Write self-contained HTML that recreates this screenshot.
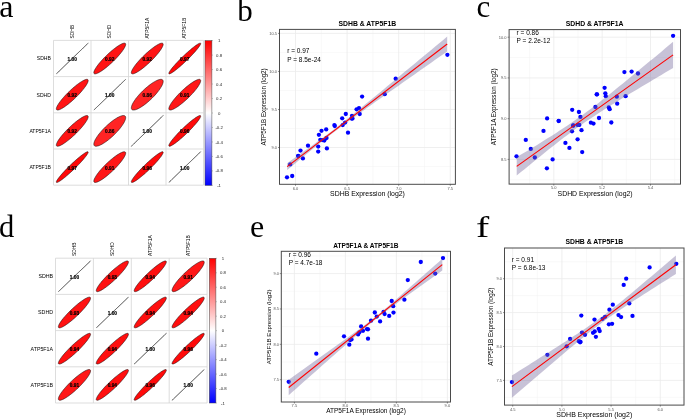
<!DOCTYPE html><html><head><meta charset="utf-8"><style>html,body{margin:0;padding:0;background:#fff;overflow:hidden}svg{display:block;will-change:transform;filter:blur(0.45px)}</style></head><body>
<svg width="685" height="419" viewBox="0 0 685 419">
<rect width="685" height="419" fill="#fff"/>
<text x="-0.80" y="17.40" font-size="32.00" text-anchor="start" fill="#000" font-family='"Liberation Serif", serif'>a</text>
<text x="237.20" y="21.20" font-size="31.00" text-anchor="start" fill="#000" font-family='"Liberation Serif", serif'>b</text>
<text x="476.40" y="17.20" font-size="31.00" text-anchor="start" fill="#000" font-family='"Liberation Serif", serif'>c</text>
<text x="-1.00" y="236.50" font-size="30.50" text-anchor="start" fill="#000" font-family='"Liberation Serif", serif'>d</text>
<text x="249.90" y="236.80" font-size="32.00" text-anchor="start" fill="#000" font-family='"Liberation Serif", serif'>e</text>
<g transform="translate(476.00 236.60) scale(1.3 1)">
<text x="0.00" y="0.00" font-size="30.50" text-anchor="start" fill="#000" font-family='"Liberation Serif", serif'>f</text>
</g>
<path d="M88.19,43.11 L88.16,43.15 L88.06,43.24 L87.90,43.39 L87.68,43.61 L87.39,43.88 L87.05,44.22 L86.64,44.61 L86.18,45.06 L85.66,45.56 L85.08,46.11 L84.46,46.71 L83.78,47.37 L83.06,48.06 L82.30,48.80 L81.49,49.58 L80.65,50.39 L79.78,51.23 L78.87,52.11 L77.94,53.01 L76.98,53.93 L76.01,54.87 L75.02,55.83 L74.02,56.79 L73.01,57.77 L72.00,58.74 L70.99,59.72 L69.98,60.69 L68.99,61.65 L68.00,62.60 L67.04,63.53 L66.09,64.44 L65.17,65.33 L64.28,66.19 L63.42,67.02 L62.60,67.82 L61.81,68.58 L61.07,69.29 L60.37,69.97 L59.72,70.59 L59.12,71.17 L58.58,71.70 L58.08,72.17 L57.65,72.59 L57.27,72.96 L56.96,73.26 L56.70,73.51 L56.51,73.69 L56.38,73.82 L56.32,73.88 L56.32,73.88 L56.38,73.82 L56.51,73.69 L56.70,73.51 L56.96,73.26 L57.27,72.96 L57.65,72.59 L58.08,72.17 L58.58,71.70 L59.12,71.17 L59.72,70.59 L60.37,69.97 L61.07,69.29 L61.81,68.58 L62.60,67.82 L63.42,67.02 L64.28,66.19 L65.17,65.33 L66.09,64.44 L67.04,63.53 L68.00,62.60 L68.99,61.65 L69.98,60.69 L70.99,59.72 L72.00,58.74 L73.01,57.77 L74.02,56.79 L75.02,55.83 L76.01,54.87 L76.98,53.93 L77.94,53.01 L78.87,52.11 L79.78,51.23 L80.65,50.39 L81.49,49.58 L82.30,48.80 L83.06,48.06 L83.78,47.37 L84.46,46.71 L85.08,46.11 L85.66,45.56 L86.18,45.06 L86.64,44.61 L87.05,44.22 L87.39,43.88 L87.68,43.61 L87.90,43.39 L88.06,43.24 L88.16,43.15 L88.19,43.11Z" fill="none" stroke="#4a4a4a" stroke-width="0.6"/>
<text x="72.25" y="61.09" font-size="4.80" text-anchor="middle" font-weight="bold" fill="#000" font-family='"Liberation Sans", sans-serif' stroke="#000" stroke-width="0.15">1.00</text>
<path d="M125.37,43.43 L125.13,43.26 L124.84,43.16 L124.48,43.12 L124.06,43.14 L123.59,43.22 L123.06,43.36 L122.48,43.57 L121.85,43.83 L121.16,44.16 L120.43,44.54 L119.66,44.97 L118.85,45.47 L118.00,46.01 L117.12,46.61 L116.21,47.25 L115.27,47.94 L114.32,48.67 L113.34,49.44 L112.35,50.25 L111.34,51.09 L110.33,51.96 L109.32,52.85 L108.31,53.77 L107.31,54.71 L106.32,55.66 L105.33,56.63 L104.37,57.60 L103.43,58.58 L102.52,59.55 L101.63,60.52 L100.78,61.49 L99.96,62.44 L99.18,63.37 L98.45,64.29 L97.76,65.18 L97.12,66.05 L96.52,66.88 L95.99,67.68 L95.51,68.45 L95.08,69.17 L94.71,69.85 L94.41,70.49 L94.17,71.08 L93.99,71.61 L93.87,72.10 L93.82,72.53 L93.83,72.90 L93.90,73.21 L94.04,73.47 L94.24,73.66 L94.51,73.80 L94.83,73.87 L95.22,73.88 L95.67,73.83 L96.17,73.72 L96.72,73.54 L97.33,73.31 L97.99,73.01 L98.70,72.66 L99.45,72.25 L100.24,71.79 L101.07,71.27 L101.93,70.70 L102.83,70.08 L103.75,69.41 L104.70,68.70 L105.67,67.95 L106.66,67.16 L107.65,66.34 L108.66,65.48 L109.67,64.60 L110.68,63.69 L111.69,62.76 L112.69,61.82 L113.68,60.86 L114.65,59.89 L115.60,58.91 L116.53,57.94 L117.43,56.96 L118.30,55.99 L119.14,55.04 L119.93,54.09 L120.69,53.17 L121.40,52.26 L122.07,51.38 L122.69,50.53 L123.25,49.71 L123.76,48.93 L124.21,48.19 L124.61,47.48 L124.95,46.82 L125.22,46.21 L125.43,45.65 L125.58,45.14 L125.67,44.68 L125.69,44.28 L125.64,43.94 L125.54,43.65 L125.37,43.43Z" fill="rgb(255,20,20)" stroke="#000" stroke-width="0.5"/>
<text x="109.75" y="61.09" font-size="4.80" text-anchor="middle" font-weight="bold" fill="#000" font-family='"Liberation Sans", sans-serif' stroke="#000" stroke-width="0.15">0.92</text>
<path d="M162.87,43.43 L162.63,43.26 L162.34,43.16 L161.98,43.12 L161.56,43.14 L161.09,43.22 L160.56,43.36 L159.98,43.57 L159.35,43.83 L158.66,44.16 L157.93,44.54 L157.16,44.97 L156.35,45.47 L155.50,46.01 L154.62,46.61 L153.71,47.25 L152.77,47.94 L151.82,48.67 L150.84,49.44 L149.85,50.25 L148.84,51.09 L147.83,51.96 L146.82,52.85 L145.81,53.77 L144.81,54.71 L143.82,55.66 L142.83,56.63 L141.87,57.60 L140.93,58.58 L140.02,59.55 L139.13,60.52 L138.28,61.49 L137.46,62.44 L136.68,63.37 L135.95,64.29 L135.26,65.18 L134.62,66.05 L134.02,66.88 L133.49,67.68 L133.01,68.45 L132.58,69.17 L132.21,69.85 L131.91,70.49 L131.67,71.08 L131.49,71.61 L131.37,72.10 L131.32,72.53 L131.33,72.90 L131.40,73.21 L131.54,73.47 L131.74,73.66 L132.01,73.80 L132.33,73.87 L132.72,73.88 L133.17,73.83 L133.67,73.72 L134.22,73.54 L134.83,73.31 L135.49,73.01 L136.20,72.66 L136.95,72.25 L137.74,71.79 L138.57,71.27 L139.43,70.70 L140.33,70.08 L141.25,69.41 L142.20,68.70 L143.17,67.95 L144.16,67.16 L145.15,66.34 L146.16,65.48 L147.17,64.60 L148.18,63.69 L149.19,62.76 L150.19,61.82 L151.18,60.86 L152.15,59.89 L153.10,58.91 L154.03,57.94 L154.93,56.96 L155.80,55.99 L156.64,55.04 L157.43,54.09 L158.19,53.17 L158.90,52.26 L159.57,51.38 L160.19,50.53 L160.75,49.71 L161.26,48.93 L161.71,48.19 L162.11,47.48 L162.45,46.82 L162.72,46.21 L162.93,45.65 L163.08,45.14 L163.17,44.68 L163.19,44.28 L163.14,43.94 L163.04,43.65 L162.87,43.43Z" fill="rgb(255,20,20)" stroke="#000" stroke-width="0.5"/>
<text x="147.25" y="61.09" font-size="4.80" text-anchor="middle" font-weight="bold" fill="#000" font-family='"Liberation Sans", sans-serif' stroke="#000" stroke-width="0.15">0.92</text>
<path d="M200.57,43.23 L200.41,43.14 L200.19,43.12 L199.91,43.15 L199.57,43.25 L199.17,43.41 L198.71,43.62 L198.19,43.90 L197.62,44.24 L197.00,44.64 L196.33,45.09 L195.61,45.59 L194.85,46.15 L194.05,46.76 L193.21,47.41 L192.34,48.11 L191.43,48.85 L190.50,49.63 L189.55,50.44 L188.57,51.29 L187.58,52.17 L186.58,53.07 L185.57,53.99 L184.56,54.93 L183.55,55.89 L182.55,56.86 L181.55,57.83 L180.57,58.81 L179.60,59.78 L178.65,60.75 L177.73,61.71 L176.84,62.66 L175.98,63.59 L175.15,64.50 L174.36,65.39 L173.62,66.25 L172.92,67.08 L172.26,67.87 L171.66,68.62 L171.11,69.34 L170.61,70.01 L170.18,70.63 L169.80,71.21 L169.48,71.73 L169.22,72.20 L169.02,72.62 L168.89,72.98 L168.82,73.28 L168.82,73.52 L168.88,73.70 L169.00,73.82 L169.19,73.88 L169.44,73.88 L169.75,73.81 L170.12,73.68 L170.55,73.49 L171.04,73.24 L171.59,72.94 L172.18,72.57 L172.83,72.15 L173.52,71.67 L174.26,71.14 L175.05,70.55 L175.87,69.92 L176.72,69.25 L177.61,68.53 L178.53,67.77 L179.47,66.97 L180.44,66.14 L181.42,65.27 L182.42,64.38 L183.42,63.47 L184.43,62.54 L185.44,61.59 L186.45,60.63 L187.45,59.66 L188.44,58.68 L189.42,57.70 L190.38,56.73 L191.31,55.77 L192.22,54.81 L193.10,53.87 L193.94,52.95 L194.75,52.05 L195.52,51.18 L196.24,50.33 L196.92,49.52 L197.54,48.75 L198.12,48.01 L198.64,47.32 L199.11,46.67 L199.52,46.07 L199.87,45.52 L200.16,45.02 L200.39,44.58 L200.55,44.19 L200.65,43.86 L200.69,43.59 L200.66,43.38 L200.57,43.23Z" fill="rgb(255,8,8)" stroke="#000" stroke-width="0.5"/>
<text x="184.75" y="61.09" font-size="4.80" text-anchor="middle" font-weight="bold" fill="#000" font-family='"Liberation Sans", sans-serif' stroke="#000" stroke-width="0.15">0.97</text>
<path d="M87.87,79.63 L87.63,79.46 L87.34,79.36 L86.98,79.32 L86.56,79.34 L86.09,79.42 L85.56,79.56 L84.98,79.77 L84.35,80.03 L83.66,80.36 L82.93,80.74 L82.16,81.17 L81.35,81.67 L80.50,82.21 L79.62,82.81 L78.71,83.45 L77.77,84.14 L76.82,84.87 L75.84,85.64 L74.85,86.45 L73.84,87.29 L72.83,88.16 L71.82,89.05 L70.81,89.97 L69.81,90.91 L68.82,91.86 L67.83,92.83 L66.87,93.80 L65.93,94.78 L65.02,95.75 L64.13,96.72 L63.28,97.69 L62.46,98.64 L61.68,99.57 L60.95,100.49 L60.26,101.38 L59.62,102.25 L59.02,103.08 L58.49,103.88 L58.01,104.65 L57.58,105.37 L57.21,106.05 L56.91,106.69 L56.67,107.28 L56.49,107.81 L56.37,108.30 L56.32,108.73 L56.33,109.10 L56.40,109.41 L56.54,109.67 L56.74,109.86 L57.01,110.00 L57.33,110.07 L57.72,110.08 L58.17,110.03 L58.67,109.92 L59.22,109.74 L59.83,109.51 L60.49,109.21 L61.20,108.86 L61.95,108.45 L62.74,107.99 L63.57,107.47 L64.43,106.90 L65.33,106.28 L66.25,105.61 L67.20,104.90 L68.17,104.15 L69.16,103.36 L70.15,102.54 L71.16,101.68 L72.17,100.80 L73.18,99.89 L74.19,98.96 L75.19,98.02 L76.18,97.06 L77.15,96.09 L78.10,95.11 L79.03,94.14 L79.93,93.16 L80.80,92.19 L81.64,91.24 L82.43,90.29 L83.19,89.37 L83.90,88.46 L84.57,87.58 L85.19,86.73 L85.75,85.91 L86.26,85.13 L86.71,84.39 L87.11,83.68 L87.45,83.02 L87.72,82.41 L87.93,81.85 L88.08,81.34 L88.17,80.88 L88.19,80.48 L88.14,80.14 L88.04,79.85 L87.87,79.63Z" fill="rgb(255,20,20)" stroke="#000" stroke-width="0.5"/>
<text x="72.25" y="97.29" font-size="4.80" text-anchor="middle" font-weight="bold" fill="#000" font-family='"Liberation Sans", sans-serif' stroke="#000" stroke-width="0.15">0.92</text>
<path d="M125.69,79.31 L125.66,79.35 L125.56,79.44 L125.40,79.59 L125.18,79.81 L124.89,80.08 L124.55,80.42 L124.14,80.81 L123.68,81.26 L123.16,81.76 L122.58,82.31 L121.96,82.91 L121.28,83.57 L120.56,84.26 L119.80,85.00 L118.99,85.78 L118.15,86.59 L117.28,87.43 L116.37,88.31 L115.44,89.21 L114.48,90.13 L113.51,91.07 L112.52,92.03 L111.52,92.99 L110.51,93.97 L109.50,94.94 L108.49,95.92 L107.48,96.89 L106.49,97.85 L105.50,98.80 L104.54,99.73 L103.59,100.64 L102.67,101.53 L101.78,102.39 L100.92,103.22 L100.10,104.02 L99.31,104.78 L98.57,105.49 L97.87,106.17 L97.22,106.79 L96.62,107.37 L96.08,107.90 L95.58,108.37 L95.15,108.79 L94.77,109.16 L94.46,109.46 L94.20,109.71 L94.01,109.89 L93.88,110.02 L93.82,110.08 L93.82,110.08 L93.88,110.02 L94.01,109.89 L94.20,109.71 L94.46,109.46 L94.77,109.16 L95.15,108.79 L95.58,108.37 L96.08,107.90 L96.62,107.37 L97.22,106.79 L97.87,106.17 L98.57,105.49 L99.31,104.78 L100.10,104.02 L100.92,103.22 L101.78,102.39 L102.67,101.53 L103.59,100.64 L104.54,99.73 L105.50,98.80 L106.49,97.85 L107.48,96.89 L108.49,95.92 L109.50,94.94 L110.51,93.97 L111.52,92.99 L112.52,92.03 L113.51,91.07 L114.48,90.13 L115.44,89.21 L116.37,88.31 L117.28,87.43 L118.15,86.59 L118.99,85.78 L119.80,85.00 L120.56,84.26 L121.28,83.57 L121.96,82.91 L122.58,82.31 L123.16,81.76 L123.68,81.26 L124.14,80.81 L124.55,80.42 L124.89,80.08 L125.18,79.81 L125.40,79.59 L125.56,79.44 L125.66,79.35 L125.69,79.31Z" fill="none" stroke="#4a4a4a" stroke-width="0.6"/>
<text x="109.75" y="97.29" font-size="4.80" text-anchor="middle" font-weight="bold" fill="#000" font-family='"Liberation Sans", sans-serif' stroke="#000" stroke-width="0.15">1.00</text>
<path d="M162.62,79.86 L162.32,79.63 L161.96,79.47 L161.54,79.36 L161.07,79.32 L160.54,79.33 L159.95,79.41 L159.32,79.55 L158.63,79.76 L157.90,80.02 L157.13,80.34 L156.31,80.72 L155.46,81.15 L154.58,81.64 L153.67,82.19 L152.73,82.78 L151.77,83.42 L150.79,84.11 L149.80,84.83 L148.80,85.60 L147.79,86.41 L146.78,87.25 L145.77,88.11 L144.76,89.01 L143.77,89.93 L142.79,90.87 L141.83,91.82 L140.89,92.78 L139.97,93.75 L139.09,94.73 L138.24,95.71 L137.42,96.68 L136.65,97.64 L135.91,98.59 L135.23,99.53 L134.59,100.45 L134.00,101.34 L133.46,102.21 L132.98,103.04 L132.56,103.85 L132.20,104.61 L131.90,105.34 L131.66,106.02 L131.48,106.66 L131.37,107.25 L131.32,107.79 L131.33,108.28 L131.41,108.71 L131.55,109.08 L131.75,109.40 L132.02,109.66 L132.35,109.86 L132.74,109.99 L133.19,110.07 L133.69,110.08 L134.25,110.03 L134.86,109.92 L135.52,109.75 L136.23,109.52 L136.98,109.23 L137.78,108.88 L138.61,108.47 L139.47,108.01 L140.37,107.49 L141.30,106.92 L142.25,106.31 L143.22,105.64 L144.20,104.94 L145.20,104.19 L146.21,103.40 L147.22,102.58 L148.23,101.72 L149.24,100.84 L150.24,99.93 L151.22,99.01 L152.19,98.06 L153.14,97.10 L154.07,96.13 L154.97,95.16 L155.84,94.18 L156.67,93.21 L157.47,92.24 L158.23,91.28 L158.94,90.34 L159.60,89.41 L160.21,88.50 L160.78,87.62 L161.28,86.77 L161.73,85.95 L162.13,85.17 L162.46,84.42 L162.73,83.71 L162.94,83.05 L163.09,82.44 L163.17,81.87 L163.19,81.36 L163.14,80.90 L163.03,80.50 L162.86,80.15 L162.62,79.86Z" fill="rgb(255,36,36)" stroke="#000" stroke-width="0.5"/>
<text x="147.25" y="97.29" font-size="4.80" text-anchor="middle" font-weight="bold" fill="#000" font-family='"Liberation Sans", sans-serif' stroke="#000" stroke-width="0.15">0.86</text>
<path d="M200.32,79.67 L200.08,79.49 L199.77,79.37 L199.40,79.32 L198.98,79.33 L198.49,79.40 L197.95,79.53 L197.36,79.72 L196.72,79.98 L196.02,80.29 L195.29,80.66 L194.51,81.08 L193.69,81.57 L192.83,82.10 L191.95,82.69 L191.03,83.32 L190.09,84.00 L189.13,84.72 L188.14,85.49 L187.15,86.29 L186.15,87.12 L185.14,87.98 L184.13,88.88 L183.12,89.79 L182.11,90.72 L181.12,91.68 L180.15,92.64 L179.19,93.61 L178.25,94.58 L177.34,95.56 L176.46,96.53 L175.61,97.50 L174.80,98.45 L174.03,99.39 L173.31,100.31 L172.63,101.21 L172.00,102.08 L171.42,102.92 L170.89,103.73 L170.42,104.50 L170.00,105.23 L169.65,105.92 L169.36,106.57 L169.13,107.17 L168.96,107.71 L168.85,108.21 L168.81,108.65 L168.84,109.03 L168.92,109.36 L169.08,109.62 L169.29,109.83 L169.57,109.98 L169.91,110.06 L170.30,110.08 L170.76,110.05 L171.27,109.94 L171.84,109.78 L172.46,109.56 L173.12,109.28 L173.84,108.93 L174.60,108.54 L175.40,108.08 L176.23,107.57 L177.11,107.01 L178.01,106.40 L178.94,105.75 L179.89,105.04 L180.86,104.30 L181.85,103.52 L182.85,102.70 L183.86,101.85 L184.87,100.97 L185.88,100.07 L186.89,99.14 L187.88,98.20 L188.87,97.24 L189.84,96.28 L190.78,95.30 L191.71,94.33 L192.60,93.35 L193.47,92.38 L194.30,91.42 L195.09,90.48 L195.83,89.55 L196.54,88.64 L197.19,87.75 L197.80,86.90 L198.36,86.07 L198.85,85.28 L199.30,84.53 L199.68,83.82 L200.00,83.15 L200.27,82.53 L200.47,81.96 L200.60,81.43 L200.67,80.97 L200.68,80.55 L200.63,80.20 L200.51,79.90 L200.32,79.67Z" fill="rgb(255,23,23)" stroke="#000" stroke-width="0.5"/>
<text x="184.75" y="97.29" font-size="4.80" text-anchor="middle" font-weight="bold" fill="#000" font-family='"Liberation Sans", sans-serif' stroke="#000" stroke-width="0.15">0.91</text>
<path d="M87.87,115.83 L87.63,115.66 L87.34,115.56 L86.98,115.52 L86.56,115.54 L86.09,115.62 L85.56,115.76 L84.98,115.97 L84.35,116.23 L83.66,116.56 L82.93,116.94 L82.16,117.37 L81.35,117.87 L80.50,118.41 L79.62,119.01 L78.71,119.65 L77.77,120.34 L76.82,121.07 L75.84,121.84 L74.85,122.65 L73.84,123.49 L72.83,124.36 L71.82,125.25 L70.81,126.17 L69.81,127.11 L68.82,128.06 L67.83,129.03 L66.87,130.00 L65.93,130.98 L65.02,131.95 L64.13,132.92 L63.28,133.89 L62.46,134.84 L61.68,135.77 L60.95,136.69 L60.26,137.58 L59.62,138.45 L59.02,139.28 L58.49,140.08 L58.01,140.85 L57.58,141.57 L57.21,142.25 L56.91,142.89 L56.67,143.48 L56.49,144.01 L56.37,144.50 L56.32,144.93 L56.33,145.30 L56.40,145.61 L56.54,145.87 L56.74,146.06 L57.01,146.20 L57.33,146.27 L57.72,146.28 L58.17,146.23 L58.67,146.12 L59.22,145.94 L59.83,145.71 L60.49,145.41 L61.20,145.06 L61.95,144.65 L62.74,144.19 L63.57,143.67 L64.43,143.10 L65.33,142.48 L66.25,141.81 L67.20,141.10 L68.17,140.35 L69.16,139.56 L70.15,138.74 L71.16,137.88 L72.17,137.00 L73.18,136.09 L74.19,135.16 L75.19,134.22 L76.18,133.26 L77.15,132.29 L78.10,131.31 L79.03,130.34 L79.93,129.36 L80.80,128.39 L81.64,127.44 L82.43,126.49 L83.19,125.57 L83.90,124.66 L84.57,123.78 L85.19,122.93 L85.75,122.11 L86.26,121.33 L86.71,120.59 L87.11,119.88 L87.45,119.22 L87.72,118.61 L87.93,118.05 L88.08,117.54 L88.17,117.08 L88.19,116.68 L88.14,116.34 L88.04,116.05 L87.87,115.83Z" fill="rgb(255,20,20)" stroke="#000" stroke-width="0.5"/>
<text x="72.25" y="133.49" font-size="4.80" text-anchor="middle" font-weight="bold" fill="#000" font-family='"Liberation Sans", sans-serif' stroke="#000" stroke-width="0.15">0.92</text>
<path d="M125.12,116.06 L124.82,115.83 L124.46,115.67 L124.04,115.56 L123.57,115.52 L123.04,115.53 L122.45,115.61 L121.82,115.75 L121.13,115.96 L120.40,116.22 L119.63,116.54 L118.81,116.92 L117.96,117.35 L117.08,117.84 L116.17,118.39 L115.23,118.98 L114.27,119.62 L113.29,120.31 L112.30,121.03 L111.30,121.80 L110.29,122.61 L109.28,123.45 L108.27,124.31 L107.26,125.21 L106.27,126.13 L105.29,127.07 L104.33,128.02 L103.39,128.98 L102.47,129.95 L101.59,130.93 L100.74,131.91 L99.92,132.88 L99.15,133.84 L98.41,134.79 L97.73,135.73 L97.09,136.65 L96.50,137.54 L95.96,138.41 L95.48,139.24 L95.06,140.05 L94.70,140.81 L94.40,141.54 L94.16,142.22 L93.98,142.86 L93.87,143.45 L93.82,143.99 L93.83,144.48 L93.91,144.91 L94.05,145.28 L94.25,145.60 L94.52,145.86 L94.85,146.06 L95.24,146.19 L95.69,146.27 L96.19,146.28 L96.75,146.23 L97.36,146.12 L98.02,145.95 L98.73,145.72 L99.48,145.43 L100.28,145.08 L101.11,144.67 L101.97,144.21 L102.87,143.69 L103.80,143.12 L104.75,142.51 L105.72,141.84 L106.70,141.14 L107.70,140.39 L108.71,139.60 L109.72,138.78 L110.73,137.92 L111.74,137.04 L112.74,136.13 L113.72,135.21 L114.69,134.26 L115.64,133.30 L116.57,132.33 L117.47,131.36 L118.34,130.38 L119.17,129.41 L119.97,128.44 L120.73,127.48 L121.44,126.54 L122.10,125.61 L122.71,124.70 L123.28,123.82 L123.78,122.97 L124.23,122.15 L124.63,121.37 L124.96,120.62 L125.23,119.91 L125.44,119.25 L125.59,118.64 L125.67,118.07 L125.69,117.56 L125.64,117.10 L125.53,116.70 L125.36,116.35 L125.12,116.06Z" fill="rgb(255,36,36)" stroke="#000" stroke-width="0.5"/>
<text x="109.75" y="133.49" font-size="4.80" text-anchor="middle" font-weight="bold" fill="#000" font-family='"Liberation Sans", sans-serif' stroke="#000" stroke-width="0.15">0.86</text>
<path d="M163.19,115.52 L163.16,115.55 L163.06,115.64 L162.90,115.79 L162.68,116.01 L162.39,116.28 L162.05,116.62 L161.64,117.01 L161.18,117.46 L160.66,117.96 L160.08,118.51 L159.46,119.11 L158.78,119.77 L158.06,120.46 L157.30,121.20 L156.49,121.98 L155.65,122.79 L154.78,123.63 L153.87,124.51 L152.94,125.41 L151.98,126.33 L151.01,127.27 L150.02,128.23 L149.02,129.19 L148.01,130.17 L147.00,131.14 L145.99,132.12 L144.98,133.09 L143.99,134.05 L143.00,135.00 L142.04,135.93 L141.09,136.84 L140.17,137.73 L139.28,138.59 L138.42,139.42 L137.60,140.22 L136.81,140.98 L136.07,141.69 L135.37,142.37 L134.72,142.99 L134.12,143.57 L133.58,144.10 L133.08,144.57 L132.65,144.99 L132.27,145.36 L131.96,145.66 L131.70,145.91 L131.51,146.09 L131.38,146.22 L131.32,146.28 L131.32,146.28 L131.38,146.22 L131.51,146.09 L131.70,145.91 L131.96,145.66 L132.27,145.36 L132.65,144.99 L133.08,144.57 L133.58,144.10 L134.12,143.57 L134.72,142.99 L135.37,142.37 L136.07,141.69 L136.81,140.98 L137.60,140.22 L138.42,139.42 L139.28,138.59 L140.17,137.73 L141.09,136.84 L142.04,135.93 L143.00,135.00 L143.99,134.05 L144.98,133.09 L145.99,132.12 L147.00,131.14 L148.01,130.17 L149.02,129.19 L150.02,128.23 L151.01,127.27 L151.98,126.33 L152.94,125.41 L153.87,124.51 L154.78,123.63 L155.65,122.79 L156.49,121.98 L157.30,121.20 L158.06,120.46 L158.78,119.77 L159.46,119.11 L160.08,118.51 L160.66,117.96 L161.18,117.46 L161.64,117.01 L162.05,116.62 L162.39,116.28 L162.68,116.01 L162.90,115.79 L163.06,115.64 L163.16,115.55 L163.19,115.52Z" fill="none" stroke="#4a4a4a" stroke-width="0.6"/>
<text x="147.25" y="133.49" font-size="4.80" text-anchor="middle" font-weight="bold" fill="#000" font-family='"Liberation Sans", sans-serif' stroke="#000" stroke-width="0.15">1.00</text>
<path d="M200.53,115.67 L200.35,115.56 L200.12,115.52 L199.82,115.53 L199.46,115.61 L199.04,115.75 L198.56,115.95 L198.03,116.21 L197.44,116.53 L196.80,116.91 L196.12,117.35 L195.39,117.83 L194.61,118.38 L193.80,118.97 L192.95,119.61 L192.07,120.29 L191.15,121.02 L190.21,121.79 L189.25,122.59 L188.28,123.43 L187.28,124.30 L186.28,125.19 L185.27,126.11 L184.26,127.05 L183.25,128.00 L182.25,128.97 L181.25,129.94 L180.27,130.91 L179.31,131.89 L178.37,132.86 L177.46,133.83 L176.58,134.78 L175.72,135.71 L174.91,136.63 L174.13,137.52 L173.40,138.39 L172.71,139.23 L172.08,140.03 L171.49,140.80 L170.95,141.53 L170.48,142.21 L170.06,142.85 L169.69,143.44 L169.39,143.98 L169.15,144.47 L168.98,144.90 L168.86,145.28 L168.81,145.60 L168.83,145.85 L168.91,146.05 L169.05,146.19 L169.26,146.27 L169.53,146.28 L169.86,146.24 L170.25,146.13 L170.70,145.96 L171.20,145.73 L171.76,145.43 L172.37,145.09 L173.03,144.68 L173.74,144.22 L174.49,143.70 L175.29,143.13 L176.12,142.52 L176.99,141.86 L177.89,141.15 L178.81,140.40 L179.76,139.61 L180.73,138.79 L181.72,137.94 L182.72,137.06 L183.72,136.15 L184.74,135.22 L185.75,134.28 L186.75,133.32 L187.75,132.35 L188.74,131.37 L189.71,130.40 L190.66,129.42 L191.59,128.46 L192.49,127.50 L193.35,126.55 L194.19,125.62 L194.98,124.72 L195.74,123.84 L196.45,122.99 L197.11,122.16 L197.72,121.38 L198.28,120.63 L198.79,119.93 L199.24,119.26 L199.63,118.65 L199.96,118.08 L200.23,117.57 L200.44,117.11 L200.59,116.70 L200.67,116.36 L200.69,116.07 L200.64,115.84 L200.53,115.67Z" fill="rgb(255,10,10)" stroke="#000" stroke-width="0.5"/>
<text x="184.75" y="133.49" font-size="4.80" text-anchor="middle" font-weight="bold" fill="#000" font-family='"Liberation Sans", sans-serif' stroke="#000" stroke-width="0.15">0.96</text>
<path d="M88.07,151.83 L87.91,151.74 L87.69,151.72 L87.41,151.75 L87.07,151.85 L86.67,152.01 L86.21,152.22 L85.69,152.50 L85.12,152.84 L84.50,153.24 L83.83,153.69 L83.11,154.19 L82.35,154.75 L81.55,155.36 L80.71,156.01 L79.84,156.71 L78.93,157.45 L78.00,158.23 L77.05,159.04 L76.07,159.89 L75.08,160.77 L74.08,161.67 L73.07,162.59 L72.06,163.53 L71.05,164.49 L70.05,165.46 L69.05,166.43 L68.07,167.41 L67.10,168.38 L66.15,169.35 L65.23,170.31 L64.34,171.26 L63.48,172.19 L62.65,173.10 L61.86,173.99 L61.12,174.85 L60.42,175.68 L59.76,176.47 L59.16,177.22 L58.61,177.94 L58.11,178.61 L57.68,179.23 L57.30,179.81 L56.98,180.33 L56.72,180.80 L56.52,181.22 L56.39,181.58 L56.32,181.88 L56.32,182.12 L56.38,182.30 L56.50,182.42 L56.69,182.48 L56.94,182.48 L57.25,182.41 L57.62,182.28 L58.05,182.09 L58.54,181.84 L59.09,181.54 L59.68,181.17 L60.33,180.75 L61.02,180.27 L61.76,179.74 L62.55,179.15 L63.37,178.52 L64.22,177.85 L65.11,177.13 L66.03,176.37 L66.97,175.57 L67.94,174.74 L68.92,173.87 L69.92,172.98 L70.92,172.07 L71.93,171.14 L72.94,170.19 L73.95,169.23 L74.95,168.26 L75.94,167.28 L76.92,166.30 L77.88,165.33 L78.81,164.37 L79.72,163.41 L80.60,162.47 L81.44,161.55 L82.25,160.65 L83.02,159.78 L83.74,158.93 L84.42,158.12 L85.04,157.35 L85.62,156.61 L86.14,155.92 L86.61,155.27 L87.02,154.67 L87.37,154.12 L87.66,153.62 L87.89,153.18 L88.05,152.79 L88.15,152.46 L88.19,152.19 L88.16,151.98 L88.07,151.83Z" fill="rgb(255,8,8)" stroke="#000" stroke-width="0.5"/>
<text x="72.25" y="169.69" font-size="4.80" text-anchor="middle" font-weight="bold" fill="#000" font-family='"Liberation Sans", sans-serif' stroke="#000" stroke-width="0.15">0.97</text>
<path d="M125.32,152.07 L125.08,151.89 L124.77,151.77 L124.40,151.72 L123.98,151.73 L123.49,151.80 L122.95,151.93 L122.36,152.12 L121.72,152.38 L121.02,152.69 L120.29,153.06 L119.51,153.48 L118.69,153.97 L117.83,154.50 L116.95,155.09 L116.03,155.72 L115.09,156.40 L114.13,157.12 L113.14,157.89 L112.15,158.69 L111.15,159.52 L110.14,160.38 L109.13,161.28 L108.12,162.19 L107.11,163.12 L106.12,164.08 L105.15,165.04 L104.19,166.01 L103.25,166.98 L102.34,167.96 L101.46,168.93 L100.61,169.90 L99.80,170.85 L99.03,171.79 L98.31,172.71 L97.63,173.61 L97.00,174.48 L96.42,175.32 L95.89,176.13 L95.42,176.90 L95.00,177.63 L94.65,178.32 L94.36,178.97 L94.13,179.57 L93.96,180.11 L93.85,180.61 L93.81,181.05 L93.84,181.43 L93.92,181.76 L94.08,182.02 L94.29,182.23 L94.57,182.38 L94.91,182.46 L95.30,182.48 L95.76,182.45 L96.27,182.34 L96.84,182.18 L97.46,181.96 L98.12,181.68 L98.84,181.33 L99.60,180.94 L100.40,180.48 L101.23,179.97 L102.11,179.41 L103.01,178.80 L103.94,178.15 L104.89,177.44 L105.86,176.70 L106.85,175.92 L107.85,175.10 L108.86,174.25 L109.87,173.37 L110.88,172.47 L111.89,171.54 L112.88,170.60 L113.87,169.64 L114.84,168.68 L115.78,167.70 L116.71,166.73 L117.60,165.75 L118.47,164.78 L119.30,163.82 L120.09,162.88 L120.83,161.95 L121.54,161.04 L122.19,160.15 L122.80,159.30 L123.36,158.47 L123.85,157.68 L124.30,156.93 L124.68,156.22 L125.00,155.55 L125.27,154.93 L125.47,154.36 L125.60,153.83 L125.67,153.37 L125.68,152.95 L125.63,152.60 L125.51,152.30 L125.32,152.07Z" fill="rgb(255,23,23)" stroke="#000" stroke-width="0.5"/>
<text x="109.75" y="169.69" font-size="4.80" text-anchor="middle" font-weight="bold" fill="#000" font-family='"Liberation Sans", sans-serif' stroke="#000" stroke-width="0.15">0.91</text>
<path d="M163.03,151.87 L162.85,151.76 L162.62,151.72 L162.32,151.73 L161.96,151.81 L161.54,151.95 L161.06,152.15 L160.53,152.41 L159.94,152.73 L159.30,153.11 L158.62,153.55 L157.89,154.03 L157.11,154.58 L156.30,155.17 L155.45,155.81 L154.57,156.49 L153.65,157.22 L152.71,157.99 L151.75,158.79 L150.78,159.63 L149.78,160.50 L148.78,161.39 L147.77,162.31 L146.76,163.25 L145.75,164.20 L144.75,165.17 L143.75,166.14 L142.77,167.11 L141.81,168.09 L140.87,169.06 L139.96,170.03 L139.08,170.98 L138.22,171.91 L137.41,172.83 L136.63,173.72 L135.90,174.59 L135.21,175.43 L134.58,176.23 L133.99,177.00 L133.45,177.73 L132.98,178.41 L132.56,179.05 L132.19,179.64 L131.89,180.18 L131.65,180.67 L131.48,181.10 L131.36,181.48 L131.31,181.80 L131.33,182.05 L131.41,182.25 L131.55,182.39 L131.76,182.47 L132.03,182.48 L132.36,182.44 L132.75,182.33 L133.20,182.16 L133.70,181.93 L134.26,181.63 L134.87,181.29 L135.53,180.88 L136.24,180.42 L136.99,179.90 L137.79,179.33 L138.62,178.72 L139.49,178.06 L140.39,177.35 L141.31,176.60 L142.26,175.81 L143.23,174.99 L144.22,174.14 L145.22,173.26 L146.22,172.35 L147.24,171.42 L148.25,170.48 L149.25,169.52 L150.25,168.55 L151.24,167.57 L152.21,166.60 L153.16,165.62 L154.09,164.66 L154.99,163.70 L155.85,162.75 L156.69,161.82 L157.48,160.92 L158.24,160.04 L158.95,159.19 L159.61,158.36 L160.22,157.58 L160.78,156.83 L161.29,156.13 L161.74,155.46 L162.13,154.85 L162.46,154.28 L162.73,153.77 L162.94,153.31 L163.09,152.90 L163.17,152.56 L163.19,152.27 L163.14,152.04 L163.03,151.87Z" fill="rgb(255,10,10)" stroke="#000" stroke-width="0.5"/>
<text x="147.25" y="169.69" font-size="4.80" text-anchor="middle" font-weight="bold" fill="#000" font-family='"Liberation Sans", sans-serif' stroke="#000" stroke-width="0.15">0.96</text>
<path d="M200.69,151.72 L200.66,151.75 L200.56,151.84 L200.40,151.99 L200.18,152.21 L199.89,152.48 L199.55,152.82 L199.14,153.21 L198.68,153.66 L198.16,154.16 L197.58,154.71 L196.96,155.31 L196.28,155.97 L195.56,156.66 L194.80,157.40 L193.99,158.18 L193.15,158.99 L192.28,159.83 L191.37,160.71 L190.44,161.61 L189.48,162.53 L188.51,163.47 L187.52,164.43 L186.52,165.39 L185.51,166.37 L184.50,167.34 L183.49,168.32 L182.48,169.29 L181.49,170.25 L180.50,171.20 L179.54,172.13 L178.59,173.04 L177.67,173.93 L176.78,174.79 L175.92,175.62 L175.10,176.42 L174.31,177.18 L173.57,177.89 L172.87,178.57 L172.22,179.19 L171.62,179.77 L171.08,180.30 L170.58,180.77 L170.15,181.19 L169.77,181.56 L169.46,181.86 L169.20,182.11 L169.01,182.29 L168.88,182.42 L168.82,182.48 L168.82,182.48 L168.88,182.42 L169.01,182.29 L169.20,182.11 L169.46,181.86 L169.77,181.56 L170.15,181.19 L170.58,180.77 L171.08,180.30 L171.62,179.77 L172.22,179.19 L172.87,178.57 L173.57,177.89 L174.31,177.18 L175.10,176.42 L175.92,175.62 L176.78,174.79 L177.67,173.93 L178.59,173.04 L179.54,172.13 L180.50,171.20 L181.49,170.25 L182.48,169.29 L183.49,168.32 L184.50,167.34 L185.51,166.37 L186.52,165.39 L187.52,164.43 L188.51,163.47 L189.48,162.53 L190.44,161.61 L191.37,160.71 L192.28,159.83 L193.15,158.99 L193.99,158.18 L194.80,157.40 L195.56,156.66 L196.28,155.97 L196.96,155.31 L197.58,154.71 L198.16,154.16 L198.68,153.66 L199.14,153.21 L199.55,152.82 L199.89,152.48 L200.18,152.21 L200.40,151.99 L200.56,151.84 L200.66,151.75 L200.69,151.72Z" fill="none" stroke="#4a4a4a" stroke-width="0.6"/>
<text x="184.75" y="169.69" font-size="4.80" text-anchor="middle" font-weight="bold" fill="#000" font-family='"Liberation Sans", sans-serif' stroke="#000" stroke-width="0.15">1.00</text>
<line x1="53.50" y1="40.40" x2="53.50" y2="185.20" stroke="#d4d4d4" stroke-width="0.8"/>
<line x1="91.00" y1="40.40" x2="91.00" y2="185.20" stroke="#d4d4d4" stroke-width="0.8"/>
<line x1="128.50" y1="40.40" x2="128.50" y2="185.20" stroke="#d4d4d4" stroke-width="0.8"/>
<line x1="166.00" y1="40.40" x2="166.00" y2="185.20" stroke="#d4d4d4" stroke-width="0.8"/>
<line x1="203.50" y1="40.40" x2="203.50" y2="185.20" stroke="#d4d4d4" stroke-width="0.8"/>
<line x1="53.50" y1="40.40" x2="203.50" y2="40.40" stroke="#d4d4d4" stroke-width="0.8"/>
<line x1="53.50" y1="76.60" x2="203.50" y2="76.60" stroke="#d4d4d4" stroke-width="0.8"/>
<line x1="53.50" y1="112.80" x2="203.50" y2="112.80" stroke="#d4d4d4" stroke-width="0.8"/>
<line x1="53.50" y1="149.00" x2="203.50" y2="149.00" stroke="#d4d4d4" stroke-width="0.8"/>
<line x1="53.50" y1="185.20" x2="203.50" y2="185.20" stroke="#d4d4d4" stroke-width="0.8"/>
<text x="73.97" y="38.60" font-size="4.90" text-anchor="start" fill="#000" transform="rotate(-90 73.97 38.60)" font-family='"Liberation Sans", sans-serif'>SDHB</text>
<text x="111.47" y="38.60" font-size="4.90" text-anchor="start" fill="#000" transform="rotate(-90 111.47 38.60)" font-family='"Liberation Sans", sans-serif'>SDHD</text>
<text x="148.97" y="38.60" font-size="4.90" text-anchor="start" fill="#000" transform="rotate(-90 148.97 38.60)" font-family='"Liberation Sans", sans-serif'>ATP5F1A</text>
<text x="186.47" y="38.60" font-size="4.90" text-anchor="start" fill="#000" transform="rotate(-90 186.47 38.60)" font-family='"Liberation Sans", sans-serif'>ATP5F1B</text>
<text x="50.90" y="60.32" font-size="5.05" text-anchor="end" fill="#000" font-family='"Liberation Sans", sans-serif'>SDHB</text>
<text x="50.90" y="96.52" font-size="5.05" text-anchor="end" fill="#000" font-family='"Liberation Sans", sans-serif'>SDHD</text>
<text x="50.90" y="132.72" font-size="5.05" text-anchor="end" fill="#000" font-family='"Liberation Sans", sans-serif'>ATP5F1A</text>
<text x="50.90" y="168.92" font-size="5.05" text-anchor="end" fill="#000" font-family='"Liberation Sans", sans-serif'>ATP5F1B</text>
<defs><linearGradient id="cb53" x1="0" y1="0" x2="0" y2="1"><stop offset="0" stop-color="#ff0000"/><stop offset="0.5" stop-color="#ffffff"/><stop offset="1" stop-color="#0000ff"/></linearGradient></defs>
<rect x="205.00" y="40.60" width="6.90" height="144.80" fill="url(#cb53)" stroke="#444" stroke-width="0.5"/>
<line x1="211.90" y1="40.60" x2="212.90" y2="40.60" stroke="#666" stroke-width="0.4"/>
<text x="219.10" y="42.15" font-size="4.30" text-anchor="middle" fill="#222" font-family='"Liberation Sans", sans-serif'>1</text>
<line x1="211.90" y1="55.08" x2="212.90" y2="55.08" stroke="#666" stroke-width="0.4"/>
<text x="219.10" y="56.63" font-size="4.30" text-anchor="middle" fill="#222" font-family='"Liberation Sans", sans-serif'>0.8</text>
<line x1="211.90" y1="69.56" x2="212.90" y2="69.56" stroke="#666" stroke-width="0.4"/>
<text x="219.10" y="71.11" font-size="4.30" text-anchor="middle" fill="#222" font-family='"Liberation Sans", sans-serif'>0.6</text>
<line x1="211.90" y1="84.04" x2="212.90" y2="84.04" stroke="#666" stroke-width="0.4"/>
<text x="219.10" y="85.59" font-size="4.30" text-anchor="middle" fill="#222" font-family='"Liberation Sans", sans-serif'>0.4</text>
<line x1="211.90" y1="98.52" x2="212.90" y2="98.52" stroke="#666" stroke-width="0.4"/>
<text x="219.10" y="100.07" font-size="4.30" text-anchor="middle" fill="#222" font-family='"Liberation Sans", sans-serif'>0.2</text>
<line x1="211.90" y1="113.00" x2="212.90" y2="113.00" stroke="#666" stroke-width="0.4"/>
<text x="219.10" y="114.55" font-size="4.30" text-anchor="middle" fill="#222" font-family='"Liberation Sans", sans-serif'>0</text>
<line x1="211.90" y1="127.48" x2="212.90" y2="127.48" stroke="#666" stroke-width="0.4"/>
<text x="219.10" y="129.03" font-size="4.30" text-anchor="middle" fill="#222" font-family='"Liberation Sans", sans-serif'>-0.2</text>
<line x1="211.90" y1="141.96" x2="212.90" y2="141.96" stroke="#666" stroke-width="0.4"/>
<text x="219.10" y="143.51" font-size="4.30" text-anchor="middle" fill="#222" font-family='"Liberation Sans", sans-serif'>-0.4</text>
<line x1="211.90" y1="156.44" x2="212.90" y2="156.44" stroke="#666" stroke-width="0.4"/>
<text x="219.10" y="157.99" font-size="4.30" text-anchor="middle" fill="#222" font-family='"Liberation Sans", sans-serif'>-0.6</text>
<line x1="211.90" y1="170.92" x2="212.90" y2="170.92" stroke="#666" stroke-width="0.4"/>
<text x="219.10" y="172.47" font-size="4.30" text-anchor="middle" fill="#222" font-family='"Liberation Sans", sans-serif'>-0.8</text>
<line x1="211.90" y1="185.40" x2="212.90" y2="185.40" stroke="#666" stroke-width="0.4"/>
<text x="219.10" y="186.95" font-size="4.30" text-anchor="middle" fill="#222" font-family='"Liberation Sans", sans-serif'>-1</text>
<path d="M90.56,260.92 L90.53,260.95 L90.43,261.04 L90.27,261.19 L90.04,261.41 L89.75,261.68 L89.40,262.02 L88.99,262.41 L88.53,262.86 L88.00,263.36 L87.42,263.91 L86.79,264.51 L86.11,265.17 L85.38,265.86 L84.61,266.60 L83.79,267.38 L82.94,268.19 L82.06,269.03 L81.14,269.91 L80.20,270.81 L79.23,271.73 L78.25,272.67 L77.25,273.63 L76.24,274.59 L75.22,275.57 L74.19,276.54 L73.17,277.52 L72.16,278.49 L71.15,279.45 L70.16,280.40 L69.18,281.33 L68.23,282.24 L67.30,283.13 L66.40,283.99 L65.53,284.82 L64.70,285.62 L63.90,286.38 L63.15,287.09 L62.45,287.77 L61.79,288.39 L61.18,288.97 L60.63,289.50 L60.13,289.97 L59.69,290.39 L59.31,290.76 L58.99,291.06 L58.74,291.31 L58.54,291.49 L58.42,291.62 L58.35,291.68 L58.35,291.68 L58.42,291.62 L58.54,291.49 L58.74,291.31 L58.99,291.06 L59.31,290.76 L59.69,290.39 L60.13,289.97 L60.63,289.50 L61.18,288.97 L61.79,288.39 L62.45,287.77 L63.15,287.09 L63.90,286.38 L64.70,285.62 L65.53,284.82 L66.40,283.99 L67.30,283.13 L68.23,282.24 L69.18,281.33 L70.16,280.40 L71.15,279.45 L72.16,278.49 L73.17,277.52 L74.19,276.54 L75.22,275.57 L76.24,274.59 L77.25,273.63 L78.25,272.67 L79.23,271.73 L80.20,270.81 L81.14,269.91 L82.06,269.03 L82.94,268.19 L83.79,267.38 L84.61,266.60 L85.38,265.86 L86.11,265.17 L86.79,264.51 L87.42,263.91 L88.00,263.36 L88.53,262.86 L88.99,262.41 L89.40,262.02 L89.75,261.68 L90.04,261.41 L90.27,261.19 L90.43,261.04 L90.53,260.95 L90.56,260.92Z" fill="none" stroke="#4a4a4a" stroke-width="0.6"/>
<text x="74.45" y="278.89" font-size="4.80" text-anchor="middle" font-weight="bold" fill="#000" font-family='"Liberation Sans", sans-serif' stroke="#000" stroke-width="0.15">1.00</text>
<path d="M128.17,261.19 L127.95,261.03 L127.66,260.94 L127.32,260.92 L126.91,260.95 L126.44,261.04 L125.92,261.20 L125.34,261.42 L124.71,261.69 L124.03,262.03 L123.31,262.42 L122.53,262.87 L121.72,263.38 L120.87,263.93 L119.99,264.54 L119.07,265.19 L118.13,265.89 L117.17,266.63 L116.18,267.40 L115.18,268.22 L114.17,269.06 L113.15,269.94 L112.13,270.84 L111.11,271.76 L110.09,272.71 L109.09,273.66 L108.09,274.63 L107.12,275.60 L106.16,276.58 L105.23,277.55 L104.33,278.52 L103.46,279.48 L102.62,280.43 L101.83,281.36 L101.08,282.28 L100.37,283.16 L99.71,284.02 L99.10,284.85 L98.55,285.64 L98.05,286.40 L97.61,287.12 L97.23,287.79 L96.91,288.41 L96.65,288.99 L96.45,289.52 L96.32,289.99 L96.25,290.41 L96.25,290.77 L96.31,291.07 L96.44,291.31 L96.63,291.50 L96.88,291.62 L97.20,291.68 L97.58,291.68 L98.02,291.61 L98.51,291.49 L99.06,291.30 L99.67,291.05 L100.32,290.75 L101.03,290.38 L101.77,289.96 L102.57,289.48 L103.40,288.95 L104.27,288.37 L105.17,287.74 L106.09,287.07 L107.05,286.35 L108.02,285.59 L109.02,284.79 L110.02,283.96 L111.04,283.10 L112.06,282.21 L113.08,281.30 L114.10,280.37 L115.11,279.42 L116.11,278.46 L117.10,277.49 L118.07,276.51 L119.01,275.53 L119.93,274.56 L120.81,273.59 L121.66,272.64 L122.48,271.70 L123.25,270.78 L123.98,269.88 L124.67,269.00 L125.30,268.16 L125.88,267.35 L126.41,266.57 L126.88,265.84 L127.29,265.14 L127.64,264.49 L127.93,263.89 L128.16,263.34 L128.32,262.84 L128.42,262.39 L128.46,262.00 L128.43,261.67 L128.33,261.40 L128.17,261.19Z" fill="rgb(255,18,18)" stroke="#000" stroke-width="0.5"/>
<text x="112.35" y="278.89" font-size="4.80" text-anchor="middle" font-weight="bold" fill="#000" font-family='"Liberation Sans", sans-serif' stroke="#000" stroke-width="0.15">0.93</text>
<path d="M166.11,261.15 L165.91,261.01 L165.63,260.93 L165.30,260.92 L164.90,260.96 L164.45,261.07 L163.94,261.24 L163.37,261.47 L162.76,261.76 L162.09,262.11 L161.37,262.52 L160.61,262.98 L159.81,263.49 L158.96,264.06 L158.09,264.68 L157.18,265.34 L156.24,266.05 L155.28,266.80 L154.30,267.58 L153.31,268.40 L152.30,269.26 L151.28,270.14 L150.26,271.04 L149.24,271.97 L148.22,272.92 L147.21,273.88 L146.21,274.84 L145.23,275.82 L144.27,276.80 L143.33,277.77 L142.42,278.74 L141.55,279.70 L140.71,280.64 L139.90,281.57 L139.14,282.47 L138.42,283.36 L137.75,284.21 L137.13,285.03 L136.57,285.82 L136.06,286.56 L135.60,287.27 L135.21,287.93 L134.87,288.55 L134.60,289.11 L134.39,289.63 L134.24,290.09 L134.16,290.49 L134.14,290.84 L134.19,291.13 L134.31,291.36 L134.48,291.53 L134.72,291.64 L135.03,291.68 L135.39,291.67 L135.81,291.59 L136.30,291.45 L136.84,291.25 L137.43,290.99 L138.07,290.67 L138.77,290.29 L139.50,289.86 L140.29,289.37 L141.11,288.83 L141.97,288.24 L142.86,287.60 L143.79,286.91 L144.73,286.18 L145.71,285.42 L146.69,284.61 L147.70,283.77 L148.71,282.91 L149.73,282.01 L150.75,281.09 L151.77,280.16 L152.79,279.20 L153.79,278.24 L154.78,277.27 L155.75,276.29 L156.70,275.32 L157.62,274.35 L158.52,273.38 L159.38,272.43 L160.20,271.49 L160.98,270.58 L161.72,269.68 L162.42,268.81 L163.06,267.98 L163.66,267.17 L164.20,266.41 L164.68,265.68 L165.10,264.99 L165.47,264.35 L165.77,263.76 L166.01,263.22 L166.19,262.74 L166.31,262.30 L166.36,261.93 L166.34,261.61 L166.26,261.35 L166.11,261.15Z" fill="rgb(255,15,15)" stroke="#000" stroke-width="0.5"/>
<text x="150.25" y="278.89" font-size="4.80" text-anchor="middle" font-weight="bold" fill="#000" font-family='"Liberation Sans", sans-serif' stroke="#000" stroke-width="0.15">0.94</text>
<path d="M203.89,261.27 L203.64,261.09 L203.33,260.97 L202.96,260.92 L202.53,260.93 L202.04,261.00 L201.49,261.13 L200.89,261.32 L200.24,261.58 L199.54,261.89 L198.80,262.26 L198.01,262.68 L197.18,263.17 L196.32,263.70 L195.42,264.29 L194.50,264.92 L193.55,265.60 L192.57,266.32 L191.58,267.09 L190.58,267.89 L189.56,268.72 L188.54,269.58 L187.52,270.48 L186.50,271.39 L185.49,272.32 L184.48,273.28 L183.50,274.24 L182.53,275.21 L181.58,276.18 L180.66,277.16 L179.77,278.13 L178.92,279.10 L178.10,280.05 L177.32,280.99 L176.59,281.91 L175.90,282.81 L175.26,283.68 L174.67,284.52 L174.14,285.33 L173.66,286.10 L173.25,286.83 L172.89,287.52 L172.59,288.17 L172.36,288.77 L172.19,289.31 L172.08,289.81 L172.04,290.25 L172.07,290.63 L172.16,290.96 L172.31,291.22 L172.53,291.43 L172.81,291.58 L173.15,291.66 L173.55,291.68 L174.01,291.65 L174.53,291.54 L175.10,291.38 L175.72,291.16 L176.40,290.88 L177.12,290.53 L177.89,290.14 L178.70,289.68 L179.54,289.17 L180.42,288.61 L181.34,288.00 L182.28,287.35 L183.24,286.64 L184.22,285.90 L185.22,285.12 L186.23,284.30 L187.25,283.45 L188.27,282.57 L189.29,281.67 L190.31,280.74 L191.32,279.80 L192.31,278.84 L193.29,277.88 L194.25,276.90 L195.18,275.93 L196.09,274.95 L196.96,273.98 L197.80,273.02 L198.60,272.08 L199.35,271.15 L200.06,270.24 L200.73,269.35 L201.34,268.50 L201.90,267.67 L202.40,266.88 L202.85,266.13 L203.24,265.42 L203.57,264.75 L203.83,264.13 L204.03,263.56 L204.17,263.03 L204.24,262.57 L204.25,262.15 L204.20,261.80 L204.08,261.50 L203.89,261.27Z" fill="rgb(255,23,23)" stroke="#000" stroke-width="0.5"/>
<text x="188.15" y="278.89" font-size="4.80" text-anchor="middle" font-weight="bold" fill="#000" font-family='"Liberation Sans", sans-serif' stroke="#000" stroke-width="0.15">0.91</text>
<path d="M90.27,297.39 L90.05,297.23 L89.76,297.14 L89.42,297.12 L89.01,297.15 L88.54,297.24 L88.02,297.40 L87.44,297.62 L86.81,297.89 L86.13,298.23 L85.41,298.62 L84.63,299.07 L83.82,299.58 L82.97,300.13 L82.09,300.74 L81.17,301.39 L80.23,302.09 L79.27,302.83 L78.28,303.60 L77.28,304.42 L76.27,305.26 L75.25,306.14 L74.23,307.04 L73.21,307.96 L72.19,308.91 L71.19,309.86 L70.19,310.83 L69.22,311.80 L68.26,312.78 L67.33,313.75 L66.43,314.72 L65.56,315.68 L64.72,316.63 L63.93,317.56 L63.18,318.48 L62.47,319.36 L61.81,320.22 L61.20,321.05 L60.65,321.84 L60.15,322.60 L59.71,323.32 L59.33,323.99 L59.01,324.61 L58.75,325.19 L58.55,325.72 L58.42,326.19 L58.35,326.61 L58.35,326.97 L58.41,327.27 L58.54,327.51 L58.73,327.70 L58.98,327.82 L59.30,327.88 L59.68,327.88 L60.12,327.81 L60.61,327.69 L61.16,327.50 L61.77,327.25 L62.42,326.95 L63.13,326.58 L63.87,326.16 L64.67,325.68 L65.50,325.15 L66.37,324.57 L67.27,323.94 L68.19,323.27 L69.15,322.55 L70.12,321.79 L71.12,320.99 L72.12,320.16 L73.14,319.30 L74.16,318.41 L75.18,317.50 L76.20,316.57 L77.21,315.62 L78.21,314.66 L79.20,313.69 L80.17,312.71 L81.11,311.73 L82.03,310.76 L82.91,309.79 L83.76,308.84 L84.58,307.90 L85.35,306.98 L86.08,306.08 L86.77,305.20 L87.40,304.36 L87.98,303.55 L88.51,302.77 L88.98,302.04 L89.39,301.34 L89.74,300.69 L90.03,300.09 L90.26,299.54 L90.42,299.04 L90.52,298.59 L90.56,298.20 L90.53,297.87 L90.43,297.60 L90.27,297.39Z" fill="rgb(255,18,18)" stroke="#000" stroke-width="0.5"/>
<text x="74.45" y="315.09" font-size="4.80" text-anchor="middle" font-weight="bold" fill="#000" font-family='"Liberation Sans", sans-serif' stroke="#000" stroke-width="0.15">0.93</text>
<path d="M128.46,297.12 L128.43,297.15 L128.33,297.24 L128.17,297.39 L127.94,297.61 L127.65,297.88 L127.30,298.22 L126.89,298.61 L126.43,299.06 L125.90,299.56 L125.32,300.11 L124.69,300.71 L124.01,301.37 L123.28,302.06 L122.51,302.80 L121.69,303.58 L120.84,304.39 L119.96,305.23 L119.04,306.11 L118.10,307.01 L117.13,307.93 L116.15,308.87 L115.15,309.83 L114.14,310.79 L113.12,311.77 L112.09,312.74 L111.07,313.72 L110.06,314.69 L109.05,315.65 L108.06,316.60 L107.08,317.53 L106.13,318.44 L105.20,319.33 L104.30,320.19 L103.43,321.02 L102.60,321.82 L101.80,322.58 L101.05,323.29 L100.35,323.97 L99.69,324.59 L99.08,325.17 L98.53,325.70 L98.03,326.17 L97.59,326.59 L97.21,326.96 L96.89,327.26 L96.64,327.51 L96.44,327.69 L96.32,327.82 L96.25,327.88 L96.25,327.88 L96.32,327.82 L96.44,327.69 L96.64,327.51 L96.89,327.26 L97.21,326.96 L97.59,326.59 L98.03,326.17 L98.53,325.70 L99.08,325.17 L99.69,324.59 L100.35,323.97 L101.05,323.29 L101.80,322.58 L102.60,321.82 L103.43,321.02 L104.30,320.19 L105.20,319.33 L106.13,318.44 L107.08,317.53 L108.06,316.60 L109.05,315.65 L110.06,314.69 L111.07,313.72 L112.09,312.74 L113.12,311.77 L114.14,310.79 L115.15,309.83 L116.15,308.87 L117.13,307.93 L118.10,307.01 L119.04,306.11 L119.96,305.23 L120.84,304.39 L121.69,303.58 L122.51,302.80 L123.28,302.06 L124.01,301.37 L124.69,300.71 L125.32,300.11 L125.90,299.56 L126.43,299.06 L126.89,298.61 L127.30,298.22 L127.65,297.88 L127.94,297.61 L128.17,297.39 L128.33,297.24 L128.43,297.15 L128.46,297.12Z" fill="none" stroke="#4a4a4a" stroke-width="0.6"/>
<text x="112.35" y="315.09" font-size="4.80" text-anchor="middle" font-weight="bold" fill="#000" font-family='"Liberation Sans", sans-serif' stroke="#000" stroke-width="0.15">1.00</text>
<path d="M166.11,297.35 L165.91,297.21 L165.63,297.13 L165.30,297.12 L164.90,297.16 L164.45,297.27 L163.94,297.44 L163.37,297.67 L162.76,297.96 L162.09,298.31 L161.37,298.72 L160.61,299.18 L159.81,299.69 L158.96,300.26 L158.09,300.88 L157.18,301.54 L156.24,302.25 L155.28,303.00 L154.30,303.78 L153.31,304.60 L152.30,305.46 L151.28,306.34 L150.26,307.24 L149.24,308.17 L148.22,309.12 L147.21,310.08 L146.21,311.04 L145.23,312.02 L144.27,313.00 L143.33,313.97 L142.42,314.94 L141.55,315.90 L140.71,316.84 L139.90,317.77 L139.14,318.67 L138.42,319.56 L137.75,320.41 L137.13,321.23 L136.57,322.02 L136.06,322.76 L135.60,323.47 L135.21,324.13 L134.87,324.75 L134.60,325.31 L134.39,325.83 L134.24,326.29 L134.16,326.69 L134.14,327.04 L134.19,327.33 L134.31,327.56 L134.48,327.73 L134.72,327.84 L135.03,327.88 L135.39,327.87 L135.81,327.79 L136.30,327.65 L136.84,327.45 L137.43,327.19 L138.07,326.87 L138.77,326.49 L139.50,326.06 L140.29,325.57 L141.11,325.03 L141.97,324.44 L142.86,323.80 L143.79,323.11 L144.73,322.38 L145.71,321.62 L146.69,320.81 L147.70,319.97 L148.71,319.11 L149.73,318.21 L150.75,317.29 L151.77,316.36 L152.79,315.40 L153.79,314.44 L154.78,313.47 L155.75,312.49 L156.70,311.52 L157.62,310.55 L158.52,309.58 L159.38,308.63 L160.20,307.69 L160.98,306.78 L161.72,305.88 L162.42,305.01 L163.06,304.18 L163.66,303.37 L164.20,302.61 L164.68,301.88 L165.10,301.19 L165.47,300.55 L165.77,299.96 L166.01,299.42 L166.19,298.94 L166.31,298.50 L166.36,298.13 L166.34,297.81 L166.26,297.55 L166.11,297.35Z" fill="rgb(255,15,15)" stroke="#000" stroke-width="0.5"/>
<text x="150.25" y="315.09" font-size="4.80" text-anchor="middle" font-weight="bold" fill="#000" font-family='"Liberation Sans", sans-serif' stroke="#000" stroke-width="0.15">0.94</text>
<path d="M204.01,297.35 L203.81,297.21 L203.53,297.13 L203.20,297.12 L202.80,297.16 L202.35,297.27 L201.84,297.44 L201.27,297.67 L200.66,297.96 L199.99,298.31 L199.27,298.72 L198.51,299.18 L197.71,299.69 L196.86,300.26 L195.99,300.88 L195.08,301.54 L194.14,302.25 L193.18,303.00 L192.20,303.78 L191.21,304.60 L190.20,305.46 L189.18,306.34 L188.16,307.24 L187.14,308.17 L186.12,309.12 L185.11,310.08 L184.11,311.04 L183.13,312.02 L182.17,313.00 L181.23,313.97 L180.32,314.94 L179.45,315.90 L178.61,316.84 L177.80,317.77 L177.04,318.67 L176.32,319.56 L175.65,320.41 L175.03,321.23 L174.47,322.02 L173.96,322.76 L173.50,323.47 L173.11,324.13 L172.77,324.75 L172.50,325.31 L172.29,325.83 L172.14,326.29 L172.06,326.69 L172.04,327.04 L172.09,327.33 L172.21,327.56 L172.38,327.73 L172.62,327.84 L172.93,327.88 L173.29,327.87 L173.71,327.79 L174.20,327.65 L174.74,327.45 L175.33,327.19 L175.97,326.87 L176.67,326.49 L177.40,326.06 L178.19,325.57 L179.01,325.03 L179.87,324.44 L180.76,323.80 L181.69,323.11 L182.63,322.38 L183.61,321.62 L184.59,320.81 L185.60,319.97 L186.61,319.11 L187.63,318.21 L188.65,317.29 L189.67,316.36 L190.69,315.40 L191.69,314.44 L192.68,313.47 L193.65,312.49 L194.60,311.52 L195.52,310.55 L196.42,309.58 L197.28,308.63 L198.10,307.69 L198.88,306.78 L199.62,305.88 L200.32,305.01 L200.96,304.18 L201.56,303.37 L202.10,302.61 L202.58,301.88 L203.00,301.19 L203.37,300.55 L203.67,299.96 L203.91,299.42 L204.09,298.94 L204.21,298.50 L204.26,298.13 L204.24,297.81 L204.16,297.55 L204.01,297.35Z" fill="rgb(255,15,15)" stroke="#000" stroke-width="0.5"/>
<text x="188.15" y="315.09" font-size="4.80" text-anchor="middle" font-weight="bold" fill="#000" font-family='"Liberation Sans", sans-serif' stroke="#000" stroke-width="0.15">0.94</text>
<path d="M90.31,333.55 L90.11,333.41 L89.83,333.33 L89.50,333.32 L89.10,333.36 L88.65,333.47 L88.14,333.64 L87.57,333.87 L86.96,334.16 L86.29,334.51 L85.57,334.92 L84.81,335.38 L84.01,335.89 L83.16,336.46 L82.29,337.08 L81.38,337.74 L80.44,338.45 L79.48,339.20 L78.50,339.98 L77.51,340.80 L76.50,341.66 L75.48,342.54 L74.46,343.44 L73.44,344.37 L72.42,345.32 L71.41,346.28 L70.41,347.24 L69.43,348.22 L68.47,349.20 L67.53,350.17 L66.62,351.14 L65.75,352.10 L64.91,353.04 L64.10,353.97 L63.34,354.87 L62.62,355.76 L61.95,356.61 L61.33,357.43 L60.77,358.22 L60.26,358.96 L59.80,359.67 L59.41,360.33 L59.07,360.95 L58.80,361.51 L58.59,362.03 L58.44,362.49 L58.36,362.89 L58.34,363.24 L58.39,363.53 L58.51,363.76 L58.68,363.93 L58.92,364.04 L59.23,364.08 L59.59,364.07 L60.01,363.99 L60.50,363.85 L61.04,363.65 L61.63,363.39 L62.27,363.07 L62.97,362.69 L63.70,362.26 L64.49,361.77 L65.31,361.23 L66.17,360.64 L67.06,360.00 L67.99,359.31 L68.93,358.58 L69.91,357.82 L70.89,357.01 L71.90,356.17 L72.91,355.31 L73.93,354.41 L74.95,353.49 L75.97,352.56 L76.99,351.60 L77.99,350.64 L78.98,349.67 L79.95,348.69 L80.90,347.72 L81.82,346.75 L82.72,345.78 L83.58,344.83 L84.40,343.89 L85.18,342.98 L85.92,342.08 L86.62,341.21 L87.26,340.38 L87.86,339.57 L88.40,338.81 L88.88,338.08 L89.30,337.39 L89.67,336.75 L89.97,336.16 L90.21,335.62 L90.39,335.14 L90.51,334.70 L90.56,334.33 L90.54,334.01 L90.46,333.75 L90.31,333.55Z" fill="rgb(255,15,15)" stroke="#000" stroke-width="0.5"/>
<text x="74.45" y="351.29" font-size="4.80" text-anchor="middle" font-weight="bold" fill="#000" font-family='"Liberation Sans", sans-serif' stroke="#000" stroke-width="0.15">0.94</text>
<path d="M128.21,333.55 L128.01,333.41 L127.73,333.33 L127.40,333.32 L127.00,333.36 L126.55,333.47 L126.04,333.64 L125.47,333.87 L124.86,334.16 L124.19,334.51 L123.47,334.92 L122.71,335.38 L121.91,335.89 L121.06,336.46 L120.19,337.08 L119.28,337.74 L118.34,338.45 L117.38,339.20 L116.40,339.98 L115.41,340.80 L114.40,341.66 L113.38,342.54 L112.36,343.44 L111.34,344.37 L110.32,345.32 L109.31,346.28 L108.31,347.24 L107.33,348.22 L106.37,349.20 L105.43,350.17 L104.52,351.14 L103.65,352.10 L102.81,353.04 L102.00,353.97 L101.24,354.87 L100.52,355.76 L99.85,356.61 L99.23,357.43 L98.67,358.22 L98.16,358.96 L97.70,359.67 L97.31,360.33 L96.97,360.95 L96.70,361.51 L96.49,362.03 L96.34,362.49 L96.26,362.89 L96.24,363.24 L96.29,363.53 L96.41,363.76 L96.58,363.93 L96.82,364.04 L97.13,364.08 L97.49,364.07 L97.91,363.99 L98.40,363.85 L98.94,363.65 L99.53,363.39 L100.17,363.07 L100.87,362.69 L101.60,362.26 L102.39,361.77 L103.21,361.23 L104.07,360.64 L104.96,360.00 L105.89,359.31 L106.83,358.58 L107.81,357.82 L108.79,357.01 L109.80,356.17 L110.81,355.31 L111.83,354.41 L112.85,353.49 L113.87,352.56 L114.89,351.60 L115.89,350.64 L116.88,349.67 L117.85,348.69 L118.80,347.72 L119.72,346.75 L120.62,345.78 L121.48,344.83 L122.30,343.89 L123.08,342.98 L123.82,342.08 L124.52,341.21 L125.16,340.38 L125.76,339.57 L126.30,338.81 L126.78,338.08 L127.20,337.39 L127.57,336.75 L127.87,336.16 L128.11,335.62 L128.29,335.14 L128.41,334.70 L128.46,334.33 L128.44,334.01 L128.36,333.75 L128.21,333.55Z" fill="rgb(255,15,15)" stroke="#000" stroke-width="0.5"/>
<text x="112.35" y="351.29" font-size="4.80" text-anchor="middle" font-weight="bold" fill="#000" font-family='"Liberation Sans", sans-serif' stroke="#000" stroke-width="0.15">0.94</text>
<path d="M166.36,333.31 L166.33,333.35 L166.23,333.44 L166.07,333.59 L165.84,333.81 L165.55,334.08 L165.20,334.42 L164.79,334.81 L164.33,335.26 L163.80,335.76 L163.22,336.31 L162.59,336.91 L161.91,337.57 L161.18,338.26 L160.41,339.00 L159.59,339.78 L158.74,340.59 L157.86,341.43 L156.94,342.31 L156.00,343.21 L155.03,344.13 L154.05,345.07 L153.05,346.03 L152.04,346.99 L151.02,347.97 L149.99,348.94 L148.97,349.92 L147.96,350.89 L146.95,351.85 L145.96,352.80 L144.98,353.73 L144.03,354.64 L143.10,355.53 L142.20,356.39 L141.33,357.22 L140.50,358.02 L139.70,358.78 L138.95,359.49 L138.25,360.17 L137.59,360.79 L136.98,361.37 L136.43,361.90 L135.93,362.37 L135.49,362.79 L135.11,363.16 L134.79,363.46 L134.54,363.71 L134.34,363.89 L134.22,364.02 L134.15,364.08 L134.15,364.08 L134.22,364.02 L134.34,363.89 L134.54,363.71 L134.79,363.46 L135.11,363.16 L135.49,362.79 L135.93,362.37 L136.43,361.90 L136.98,361.37 L137.59,360.79 L138.25,360.17 L138.95,359.49 L139.70,358.78 L140.50,358.02 L141.33,357.22 L142.20,356.39 L143.10,355.53 L144.03,354.64 L144.98,353.73 L145.96,352.80 L146.95,351.85 L147.96,350.89 L148.97,349.92 L149.99,348.94 L151.02,347.97 L152.04,346.99 L153.05,346.03 L154.05,345.07 L155.03,344.13 L156.00,343.21 L156.94,342.31 L157.86,341.43 L158.74,340.59 L159.59,339.78 L160.41,339.00 L161.18,338.26 L161.91,337.57 L162.59,336.91 L163.22,336.31 L163.80,335.76 L164.33,335.26 L164.79,334.81 L165.20,334.42 L165.55,334.08 L165.84,333.81 L166.07,333.59 L166.23,333.44 L166.33,333.35 L166.36,333.31Z" fill="none" stroke="#4a4a4a" stroke-width="0.6"/>
<text x="150.25" y="351.29" font-size="4.80" text-anchor="middle" font-weight="bold" fill="#000" font-family='"Liberation Sans", sans-serif' stroke="#000" stroke-width="0.15">1.00</text>
<path d="M204.10,333.47 L203.92,333.36 L203.68,333.32 L203.38,333.33 L203.01,333.41 L202.59,333.55 L202.11,333.75 L201.57,334.01 L200.98,334.33 L200.33,334.71 L199.64,335.15 L198.90,335.63 L198.12,336.18 L197.30,336.77 L196.44,337.41 L195.54,338.09 L194.62,338.82 L193.67,339.59 L192.70,340.39 L191.71,341.23 L190.71,342.10 L189.70,342.99 L188.68,343.91 L187.65,344.85 L186.63,345.80 L185.62,346.77 L184.62,347.74 L183.63,348.71 L182.65,349.69 L181.71,350.66 L180.78,351.63 L179.89,352.58 L179.03,353.51 L178.20,354.43 L177.42,355.32 L176.68,356.19 L175.99,357.03 L175.34,357.83 L174.75,358.60 L174.21,359.33 L173.72,360.01 L173.30,360.65 L172.93,361.24 L172.63,361.78 L172.39,362.27 L172.21,362.70 L172.09,363.08 L172.04,363.40 L172.06,363.65 L172.14,363.85 L172.28,363.99 L172.49,364.07 L172.76,364.08 L173.10,364.04 L173.49,363.93 L173.95,363.76 L174.46,363.53 L175.02,363.23 L175.64,362.89 L176.31,362.48 L177.02,362.02 L177.79,361.50 L178.59,360.93 L179.43,360.32 L180.31,359.66 L181.21,358.95 L182.15,358.20 L183.11,357.41 L184.09,356.59 L185.09,355.74 L186.10,354.86 L187.11,353.95 L188.14,353.02 L189.16,352.08 L190.17,351.12 L191.18,350.15 L192.18,349.17 L193.16,348.20 L194.12,347.22 L195.06,346.26 L195.97,345.30 L196.85,344.35 L197.69,343.42 L198.49,342.52 L199.25,341.64 L199.97,340.79 L200.64,339.96 L201.26,339.18 L201.83,338.43 L202.34,337.73 L202.80,337.06 L203.19,336.45 L203.53,335.88 L203.80,335.37 L204.01,334.91 L204.16,334.50 L204.24,334.16 L204.26,333.87 L204.21,333.64 L204.10,333.47Z" fill="rgb(255,10,10)" stroke="#000" stroke-width="0.5"/>
<text x="188.15" y="351.29" font-size="4.80" text-anchor="middle" font-weight="bold" fill="#000" font-family='"Liberation Sans", sans-serif' stroke="#000" stroke-width="0.15">0.96</text>
<path d="M90.19,369.87 L89.94,369.69 L89.63,369.57 L89.26,369.52 L88.83,369.53 L88.34,369.60 L87.79,369.73 L87.19,369.92 L86.54,370.18 L85.84,370.49 L85.10,370.86 L84.31,371.28 L83.48,371.77 L82.62,372.30 L81.72,372.89 L80.80,373.52 L79.85,374.20 L78.87,374.92 L77.88,375.69 L76.88,376.49 L75.86,377.32 L74.84,378.18 L73.82,379.08 L72.80,379.99 L71.79,380.92 L70.78,381.88 L69.80,382.84 L68.83,383.81 L67.88,384.78 L66.96,385.76 L66.07,386.73 L65.22,387.70 L64.40,388.65 L63.62,389.59 L62.89,390.51 L62.20,391.41 L61.56,392.28 L60.97,393.12 L60.44,393.93 L59.96,394.70 L59.55,395.43 L59.19,396.12 L58.89,396.77 L58.66,397.37 L58.49,397.91 L58.38,398.41 L58.34,398.85 L58.37,399.23 L58.46,399.56 L58.61,399.82 L58.83,400.03 L59.11,400.18 L59.45,400.26 L59.85,400.28 L60.31,400.25 L60.83,400.14 L61.40,399.98 L62.02,399.76 L62.70,399.48 L63.42,399.13 L64.19,398.74 L65.00,398.28 L65.84,397.77 L66.72,397.21 L67.64,396.60 L68.58,395.95 L69.54,395.24 L70.52,394.50 L71.52,393.72 L72.53,392.90 L73.55,392.05 L74.57,391.17 L75.59,390.27 L76.61,389.34 L77.62,388.40 L78.61,387.44 L79.59,386.48 L80.55,385.50 L81.48,384.53 L82.39,383.55 L83.26,382.58 L84.10,381.62 L84.90,380.68 L85.65,379.75 L86.36,378.84 L87.03,377.95 L87.64,377.10 L88.20,376.27 L88.70,375.48 L89.15,374.73 L89.54,374.02 L89.87,373.35 L90.13,372.73 L90.33,372.16 L90.47,371.63 L90.54,371.17 L90.55,370.75 L90.50,370.40 L90.38,370.10 L90.19,369.87Z" fill="rgb(255,23,23)" stroke="#000" stroke-width="0.5"/>
<text x="74.45" y="387.49" font-size="4.80" text-anchor="middle" font-weight="bold" fill="#000" font-family='"Liberation Sans", sans-serif' stroke="#000" stroke-width="0.15">0.91</text>
<path d="M128.21,369.75 L128.01,369.61 L127.73,369.53 L127.40,369.52 L127.00,369.56 L126.55,369.67 L126.04,369.84 L125.47,370.07 L124.86,370.36 L124.19,370.71 L123.47,371.12 L122.71,371.58 L121.91,372.09 L121.06,372.66 L120.19,373.28 L119.28,373.94 L118.34,374.65 L117.38,375.40 L116.40,376.18 L115.41,377.00 L114.40,377.86 L113.38,378.74 L112.36,379.64 L111.34,380.57 L110.32,381.52 L109.31,382.48 L108.31,383.44 L107.33,384.42 L106.37,385.40 L105.43,386.37 L104.52,387.34 L103.65,388.30 L102.81,389.24 L102.00,390.17 L101.24,391.07 L100.52,391.96 L99.85,392.81 L99.23,393.63 L98.67,394.42 L98.16,395.16 L97.70,395.87 L97.31,396.53 L96.97,397.15 L96.70,397.71 L96.49,398.23 L96.34,398.69 L96.26,399.09 L96.24,399.44 L96.29,399.73 L96.41,399.96 L96.58,400.13 L96.82,400.24 L97.13,400.28 L97.49,400.27 L97.91,400.19 L98.40,400.05 L98.94,399.85 L99.53,399.59 L100.17,399.27 L100.87,398.89 L101.60,398.46 L102.39,397.97 L103.21,397.43 L104.07,396.84 L104.96,396.20 L105.89,395.51 L106.83,394.78 L107.81,394.02 L108.79,393.21 L109.80,392.37 L110.81,391.51 L111.83,390.61 L112.85,389.69 L113.87,388.76 L114.89,387.80 L115.89,386.84 L116.88,385.87 L117.85,384.89 L118.80,383.92 L119.72,382.95 L120.62,381.98 L121.48,381.03 L122.30,380.09 L123.08,379.18 L123.82,378.28 L124.52,377.41 L125.16,376.58 L125.76,375.77 L126.30,375.01 L126.78,374.28 L127.20,373.59 L127.57,372.95 L127.87,372.36 L128.11,371.82 L128.29,371.34 L128.41,370.90 L128.46,370.53 L128.44,370.21 L128.36,369.95 L128.21,369.75Z" fill="rgb(255,15,15)" stroke="#000" stroke-width="0.5"/>
<text x="112.35" y="387.49" font-size="4.80" text-anchor="middle" font-weight="bold" fill="#000" font-family='"Liberation Sans", sans-serif' stroke="#000" stroke-width="0.15">0.94</text>
<path d="M166.20,369.67 L166.02,369.56 L165.78,369.52 L165.48,369.53 L165.11,369.61 L164.69,369.75 L164.21,369.95 L163.67,370.21 L163.08,370.53 L162.43,370.91 L161.74,371.35 L161.00,371.83 L160.22,372.38 L159.40,372.97 L158.54,373.61 L157.64,374.29 L156.72,375.02 L155.77,375.79 L154.80,376.59 L153.81,377.43 L152.81,378.30 L151.80,379.19 L150.78,380.11 L149.75,381.05 L148.73,382.00 L147.72,382.97 L146.72,383.94 L145.73,384.91 L144.75,385.89 L143.81,386.86 L142.88,387.83 L141.99,388.78 L141.13,389.71 L140.30,390.63 L139.52,391.52 L138.78,392.39 L138.09,393.23 L137.44,394.03 L136.85,394.80 L136.31,395.53 L135.82,396.21 L135.40,396.85 L135.03,397.44 L134.73,397.98 L134.49,398.47 L134.31,398.90 L134.19,399.28 L134.14,399.60 L134.16,399.85 L134.24,400.05 L134.38,400.19 L134.59,400.27 L134.86,400.28 L135.20,400.24 L135.59,400.13 L136.05,399.96 L136.56,399.73 L137.12,399.43 L137.74,399.09 L138.41,398.68 L139.12,398.22 L139.89,397.70 L140.69,397.13 L141.53,396.52 L142.41,395.86 L143.31,395.15 L144.25,394.40 L145.21,393.61 L146.19,392.79 L147.19,391.94 L148.20,391.06 L149.21,390.15 L150.24,389.22 L151.26,388.28 L152.27,387.32 L153.28,386.35 L154.28,385.37 L155.26,384.40 L156.22,383.42 L157.16,382.46 L158.07,381.50 L158.95,380.55 L159.79,379.62 L160.59,378.72 L161.35,377.84 L162.07,376.99 L162.74,376.16 L163.36,375.38 L163.93,374.63 L164.44,373.93 L164.90,373.26 L165.29,372.65 L165.63,372.08 L165.90,371.57 L166.11,371.11 L166.26,370.70 L166.34,370.36 L166.36,370.07 L166.31,369.84 L166.20,369.67Z" fill="rgb(255,10,10)" stroke="#000" stroke-width="0.5"/>
<text x="150.25" y="387.49" font-size="4.80" text-anchor="middle" font-weight="bold" fill="#000" font-family='"Liberation Sans", sans-serif' stroke="#000" stroke-width="0.15">0.96</text>
<path d="M204.26,369.51 L204.23,369.55 L204.13,369.64 L203.97,369.79 L203.74,370.01 L203.45,370.28 L203.10,370.62 L202.69,371.01 L202.23,371.46 L201.70,371.96 L201.12,372.51 L200.49,373.11 L199.81,373.77 L199.08,374.46 L198.31,375.20 L197.49,375.98 L196.64,376.79 L195.76,377.63 L194.84,378.51 L193.90,379.41 L192.93,380.33 L191.95,381.27 L190.95,382.23 L189.94,383.19 L188.92,384.17 L187.89,385.14 L186.87,386.12 L185.86,387.09 L184.85,388.05 L183.86,389.00 L182.88,389.93 L181.93,390.84 L181.00,391.73 L180.10,392.59 L179.23,393.42 L178.40,394.22 L177.60,394.98 L176.85,395.69 L176.15,396.37 L175.49,396.99 L174.88,397.57 L174.33,398.10 L173.83,398.57 L173.39,398.99 L173.01,399.36 L172.69,399.66 L172.44,399.91 L172.24,400.09 L172.12,400.22 L172.05,400.28 L172.05,400.28 L172.12,400.22 L172.24,400.09 L172.44,399.91 L172.69,399.66 L173.01,399.36 L173.39,398.99 L173.83,398.57 L174.33,398.10 L174.88,397.57 L175.49,396.99 L176.15,396.37 L176.85,395.69 L177.60,394.98 L178.40,394.22 L179.23,393.42 L180.10,392.59 L181.00,391.73 L181.93,390.84 L182.88,389.93 L183.86,389.00 L184.85,388.05 L185.86,387.09 L186.87,386.12 L187.89,385.14 L188.92,384.17 L189.94,383.19 L190.95,382.23 L191.95,381.27 L192.93,380.33 L193.90,379.41 L194.84,378.51 L195.76,377.63 L196.64,376.79 L197.49,375.98 L198.31,375.20 L199.08,374.46 L199.81,373.77 L200.49,373.11 L201.12,372.51 L201.70,371.96 L202.23,371.46 L202.69,371.01 L203.10,370.62 L203.45,370.28 L203.74,370.01 L203.97,369.79 L204.13,369.64 L204.23,369.55 L204.26,369.51Z" fill="none" stroke="#4a4a4a" stroke-width="0.6"/>
<text x="188.15" y="387.49" font-size="4.80" text-anchor="middle" font-weight="bold" fill="#000" font-family='"Liberation Sans", sans-serif' stroke="#000" stroke-width="0.15">1.00</text>
<line x1="55.50" y1="258.20" x2="55.50" y2="403.00" stroke="#d4d4d4" stroke-width="0.8"/>
<line x1="93.40" y1="258.20" x2="93.40" y2="403.00" stroke="#d4d4d4" stroke-width="0.8"/>
<line x1="131.30" y1="258.20" x2="131.30" y2="403.00" stroke="#d4d4d4" stroke-width="0.8"/>
<line x1="169.20" y1="258.20" x2="169.20" y2="403.00" stroke="#d4d4d4" stroke-width="0.8"/>
<line x1="207.10" y1="258.20" x2="207.10" y2="403.00" stroke="#d4d4d4" stroke-width="0.8"/>
<line x1="55.50" y1="258.20" x2="207.10" y2="258.20" stroke="#d4d4d4" stroke-width="0.8"/>
<line x1="55.50" y1="294.40" x2="207.10" y2="294.40" stroke="#d4d4d4" stroke-width="0.8"/>
<line x1="55.50" y1="330.60" x2="207.10" y2="330.60" stroke="#d4d4d4" stroke-width="0.8"/>
<line x1="55.50" y1="366.80" x2="207.10" y2="366.80" stroke="#d4d4d4" stroke-width="0.8"/>
<line x1="55.50" y1="403.00" x2="207.10" y2="403.00" stroke="#d4d4d4" stroke-width="0.8"/>
<text x="76.17" y="256.00" font-size="4.90" text-anchor="start" fill="#000" transform="rotate(-90 76.17 256.00)" font-family='"Liberation Sans", sans-serif'>SDHB</text>
<text x="114.06" y="256.00" font-size="4.90" text-anchor="start" fill="#000" transform="rotate(-90 114.06 256.00)" font-family='"Liberation Sans", sans-serif'>SDHD</text>
<text x="151.97" y="256.00" font-size="4.90" text-anchor="start" fill="#000" transform="rotate(-90 151.97 256.00)" font-family='"Liberation Sans", sans-serif'>ATP5F1A</text>
<text x="189.87" y="256.00" font-size="4.90" text-anchor="start" fill="#000" transform="rotate(-90 189.87 256.00)" font-family='"Liberation Sans", sans-serif'>ATP5F1B</text>
<text x="53.10" y="278.21" font-size="5.30" text-anchor="end" fill="#000" font-family='"Liberation Sans", sans-serif'>SDHB</text>
<text x="53.10" y="314.41" font-size="5.30" text-anchor="end" fill="#000" font-family='"Liberation Sans", sans-serif'>SDHD</text>
<text x="53.10" y="350.61" font-size="5.30" text-anchor="end" fill="#000" font-family='"Liberation Sans", sans-serif'>ATP5F1A</text>
<text x="53.10" y="386.81" font-size="5.30" text-anchor="end" fill="#000" font-family='"Liberation Sans", sans-serif'>ATP5F1B</text>
<defs><linearGradient id="cb55" x1="0" y1="0" x2="0" y2="1"><stop offset="0" stop-color="#ff0000"/><stop offset="0.5" stop-color="#ffffff"/><stop offset="1" stop-color="#0000ff"/></linearGradient></defs>
<rect x="209.30" y="258.30" width="6.60" height="144.70" fill="url(#cb55)" stroke="#444" stroke-width="0.5"/>
<line x1="215.90" y1="258.30" x2="216.90" y2="258.30" stroke="#666" stroke-width="0.4"/>
<text x="223.00" y="259.85" font-size="4.30" text-anchor="middle" fill="#222" font-family='"Liberation Sans", sans-serif'>1</text>
<line x1="215.90" y1="272.77" x2="216.90" y2="272.77" stroke="#666" stroke-width="0.4"/>
<text x="223.00" y="274.32" font-size="4.30" text-anchor="middle" fill="#222" font-family='"Liberation Sans", sans-serif'>0.8</text>
<line x1="215.90" y1="287.24" x2="216.90" y2="287.24" stroke="#666" stroke-width="0.4"/>
<text x="223.00" y="288.79" font-size="4.30" text-anchor="middle" fill="#222" font-family='"Liberation Sans", sans-serif'>0.6</text>
<line x1="215.90" y1="301.71" x2="216.90" y2="301.71" stroke="#666" stroke-width="0.4"/>
<text x="223.00" y="303.26" font-size="4.30" text-anchor="middle" fill="#222" font-family='"Liberation Sans", sans-serif'>0.4</text>
<line x1="215.90" y1="316.18" x2="216.90" y2="316.18" stroke="#666" stroke-width="0.4"/>
<text x="223.00" y="317.73" font-size="4.30" text-anchor="middle" fill="#222" font-family='"Liberation Sans", sans-serif'>0.2</text>
<line x1="215.90" y1="330.65" x2="216.90" y2="330.65" stroke="#666" stroke-width="0.4"/>
<text x="223.00" y="332.20" font-size="4.30" text-anchor="middle" fill="#222" font-family='"Liberation Sans", sans-serif'>0</text>
<line x1="215.90" y1="345.12" x2="216.90" y2="345.12" stroke="#666" stroke-width="0.4"/>
<text x="223.00" y="346.67" font-size="4.30" text-anchor="middle" fill="#222" font-family='"Liberation Sans", sans-serif'>-0.2</text>
<line x1="215.90" y1="359.59" x2="216.90" y2="359.59" stroke="#666" stroke-width="0.4"/>
<text x="223.00" y="361.14" font-size="4.30" text-anchor="middle" fill="#222" font-family='"Liberation Sans", sans-serif'>-0.4</text>
<line x1="215.90" y1="374.06" x2="216.90" y2="374.06" stroke="#666" stroke-width="0.4"/>
<text x="223.00" y="375.61" font-size="4.30" text-anchor="middle" fill="#222" font-family='"Liberation Sans", sans-serif'>-0.6</text>
<line x1="215.90" y1="388.53" x2="216.90" y2="388.53" stroke="#666" stroke-width="0.4"/>
<text x="223.00" y="390.08" font-size="4.30" text-anchor="middle" fill="#222" font-family='"Liberation Sans", sans-serif'>-0.8</text>
<line x1="215.90" y1="403.00" x2="216.90" y2="403.00" stroke="#666" stroke-width="0.4"/>
<text x="223.00" y="404.55" font-size="4.30" text-anchor="middle" fill="#222" font-family='"Liberation Sans", sans-serif'>-1</text>
<defs><clipPath id="cpb"><rect x="279.5" y="29.4" width="175.89999999999998" height="154.9"/></clipPath></defs>
<g clip-path="url(#cpb)">
<line x1="269.70" y1="29.4" x2="269.70" y2="184.3" stroke="#f2f2f2" stroke-width="0.5"/>
<line x1="321.30" y1="29.4" x2="321.30" y2="184.3" stroke="#f2f2f2" stroke-width="0.5"/>
<line x1="372.90" y1="29.4" x2="372.90" y2="184.3" stroke="#f2f2f2" stroke-width="0.5"/>
<line x1="424.50" y1="29.4" x2="424.50" y2="184.3" stroke="#f2f2f2" stroke-width="0.5"/>
<line x1="279.5" y1="166.52" x2="455.4" y2="166.52" stroke="#f2f2f2" stroke-width="0.5"/>
<line x1="279.5" y1="128.48" x2="455.4" y2="128.48" stroke="#f2f2f2" stroke-width="0.5"/>
<line x1="279.5" y1="90.45" x2="455.4" y2="90.45" stroke="#f2f2f2" stroke-width="0.5"/>
<line x1="279.5" y1="52.42" x2="455.4" y2="52.42" stroke="#f2f2f2" stroke-width="0.5"/>
<line x1="295.50" y1="29.4" x2="295.50" y2="184.3" stroke="#ebebeb" stroke-width="0.8"/>
<line x1="347.10" y1="29.4" x2="347.10" y2="184.3" stroke="#ebebeb" stroke-width="0.8"/>
<line x1="398.70" y1="29.4" x2="398.70" y2="184.3" stroke="#ebebeb" stroke-width="0.8"/>
<line x1="450.30" y1="29.4" x2="450.30" y2="184.3" stroke="#ebebeb" stroke-width="0.8"/>
<line x1="279.5" y1="147.50" x2="455.4" y2="147.50" stroke="#ebebeb" stroke-width="0.8"/>
<line x1="279.5" y1="109.47" x2="455.4" y2="109.47" stroke="#ebebeb" stroke-width="0.8"/>
<line x1="279.5" y1="71.43" x2="455.4" y2="71.43" stroke="#ebebeb" stroke-width="0.8"/>
<line x1="279.5" y1="33.40" x2="455.4" y2="33.40" stroke="#ebebeb" stroke-width="0.8"/>
<circle cx="287.00" cy="177.30" r="2.15" fill="#0000ff"/>
<circle cx="292.20" cy="176.00" r="2.15" fill="#0000ff"/>
<circle cx="290.20" cy="164.40" r="2.15" fill="#0000ff"/>
<circle cx="298.20" cy="155.80" r="2.15" fill="#0000ff"/>
<circle cx="300.50" cy="150.60" r="2.15" fill="#0000ff"/>
<circle cx="302.90" cy="158.40" r="2.15" fill="#0000ff"/>
<circle cx="308.00" cy="145.70" r="2.15" fill="#0000ff"/>
<circle cx="318.20" cy="151.60" r="2.15" fill="#0000ff"/>
<circle cx="318.20" cy="146.60" r="2.15" fill="#0000ff"/>
<circle cx="320.30" cy="139.80" r="2.15" fill="#0000ff"/>
<circle cx="322.60" cy="140.10" r="2.15" fill="#0000ff"/>
<circle cx="324.30" cy="140.50" r="2.15" fill="#0000ff"/>
<circle cx="326.50" cy="138.00" r="2.15" fill="#0000ff"/>
<circle cx="318.90" cy="134.80" r="2.15" fill="#0000ff"/>
<circle cx="321.50" cy="130.80" r="2.15" fill="#0000ff"/>
<circle cx="326.20" cy="129.40" r="2.15" fill="#0000ff"/>
<circle cx="326.90" cy="148.40" r="2.15" fill="#0000ff"/>
<circle cx="334.40" cy="125.10" r="2.15" fill="#0000ff"/>
<circle cx="334.80" cy="126.10" r="2.15" fill="#0000ff"/>
<circle cx="342.70" cy="125.10" r="2.15" fill="#0000ff"/>
<circle cx="342.20" cy="118.30" r="2.15" fill="#0000ff"/>
<circle cx="345.80" cy="114.00" r="2.15" fill="#0000ff"/>
<circle cx="345.10" cy="122.60" r="2.15" fill="#0000ff"/>
<circle cx="348.00" cy="132.70" r="2.15" fill="#0000ff"/>
<circle cx="352.00" cy="115.80" r="2.15" fill="#0000ff"/>
<circle cx="351.50" cy="118.60" r="2.15" fill="#0000ff"/>
<circle cx="352.50" cy="118.60" r="2.15" fill="#0000ff"/>
<circle cx="356.60" cy="109.30" r="2.15" fill="#0000ff"/>
<circle cx="359.00" cy="108.20" r="2.15" fill="#0000ff"/>
<circle cx="359.70" cy="114.00" r="2.15" fill="#0000ff"/>
<circle cx="362.10" cy="96.60" r="2.15" fill="#0000ff"/>
<circle cx="384.70" cy="94.20" r="2.15" fill="#0000ff"/>
<circle cx="395.70" cy="78.70" r="2.15" fill="#0000ff"/>
<circle cx="447.40" cy="54.80" r="2.15" fill="#0000ff"/>
<circle cx="298.30" cy="156.10" r="2.15" fill="#0000ff"/>
<path d="M287.20,163.20 L291.20,160.37 L295.20,157.53 L299.20,154.69 L303.20,151.85 L307.20,149.00 L311.20,146.13 L315.20,143.25 L319.20,140.35 L323.20,137.43 L327.20,134.48 L331.20,131.48 L335.20,128.44 L339.20,125.35 L343.20,122.22 L347.20,119.04 L351.20,115.83 L355.20,112.60 L359.20,109.35 L363.20,106.09 L367.20,102.81 L371.20,99.52 L375.20,96.23 L379.20,92.94 L383.20,89.64 L387.20,86.33 L391.20,83.03 L395.20,79.72 L399.20,76.41 L403.20,73.10 L407.20,69.78 L411.20,66.47 L415.20,63.16 L419.20,59.84 L423.20,56.52 L427.20,53.21 L431.20,49.89 L435.20,46.57 L439.20,43.25 L443.20,39.93 L447.20,36.61 L447.20,51.39 L443.20,54.20 L439.20,57.01 L435.20,59.82 L431.20,62.63 L427.20,65.44 L423.20,68.26 L419.20,71.07 L415.20,73.88 L411.20,76.70 L407.20,79.52 L403.20,82.33 L399.20,85.15 L395.20,87.97 L391.20,90.79 L387.20,93.62 L383.20,96.44 L379.20,99.27 L375.20,102.11 L371.20,104.95 L367.20,107.79 L363.20,110.64 L359.20,113.51 L355.20,116.39 L351.20,119.29 L347.20,122.21 L343.20,125.16 L339.20,128.16 L335.20,131.20 L331.20,134.29 L327.20,137.42 L323.20,140.60 L319.20,143.81 L315.20,147.04 L311.20,150.29 L307.20,153.55 L303.20,156.83 L299.20,160.12 L295.20,163.41 L291.20,166.70 L287.20,170.00Z" fill="rgb(115,103,155)" fill-opacity="0.4"/>
<line x1="287.20" y1="166.60" x2="447.20" y2="44.00" stroke="#f00" stroke-width="1.1"/>
</g>
<rect x="279.5" y="29.4" width="175.89999999999998" height="154.9" fill="none" stroke="#4a4a4a" stroke-width="1"/>
<line x1="295.50" y1="184.3" x2="295.50" y2="185.8" stroke="#444" stroke-width="0.6"/>
<text x="295.50" y="189.74" font-size="4.00" text-anchor="middle" fill="#555" font-family='"Liberation Sans", sans-serif'>6.0</text>
<line x1="347.10" y1="184.3" x2="347.10" y2="185.8" stroke="#444" stroke-width="0.6"/>
<text x="347.10" y="189.74" font-size="4.00" text-anchor="middle" fill="#555" font-family='"Liberation Sans", sans-serif'>6.5</text>
<line x1="398.70" y1="184.3" x2="398.70" y2="185.8" stroke="#444" stroke-width="0.6"/>
<text x="398.70" y="189.74" font-size="4.00" text-anchor="middle" fill="#555" font-family='"Liberation Sans", sans-serif'>7.0</text>
<line x1="450.30" y1="184.3" x2="450.30" y2="185.8" stroke="#444" stroke-width="0.6"/>
<text x="450.30" y="189.74" font-size="4.00" text-anchor="middle" fill="#555" font-family='"Liberation Sans", sans-serif'>7.5</text>
<line x1="278.0" y1="147.50" x2="279.5" y2="147.50" stroke="#444" stroke-width="0.6"/>
<text x="277.10" y="148.94" font-size="4.00" text-anchor="end" fill="#555" font-family='"Liberation Sans", sans-serif'>9.0</text>
<line x1="278.0" y1="109.47" x2="279.5" y2="109.47" stroke="#444" stroke-width="0.6"/>
<text x="277.10" y="110.91" font-size="4.00" text-anchor="end" fill="#555" font-family='"Liberation Sans", sans-serif'>9.5</text>
<line x1="278.0" y1="71.43" x2="279.5" y2="71.43" stroke="#444" stroke-width="0.6"/>
<text x="277.10" y="72.87" font-size="4.00" text-anchor="end" fill="#555" font-family='"Liberation Sans", sans-serif'>10.0</text>
<line x1="278.0" y1="33.40" x2="279.5" y2="33.40" stroke="#444" stroke-width="0.6"/>
<text x="277.10" y="34.84" font-size="4.00" text-anchor="end" fill="#555" font-family='"Liberation Sans", sans-serif'>10.5</text>
<text x="367.40" y="25.80" font-size="6.85" text-anchor="middle" font-weight="bold" fill="#000" font-family='"Liberation Sans", sans-serif'>SDHB &amp; ATP5F1B</text>
<text x="367.50" y="195.70" font-size="6.92" text-anchor="middle" fill="#000" font-family='"Liberation Sans", sans-serif'>SDHB Expression (log2)</text>
<text x="266.20" y="106.90" font-size="6.27" text-anchor="middle" fill="#000" transform="rotate(-90 266.20 106.90)" font-family='"Liberation Sans", sans-serif'>ATP5F1B Expression (log2)</text>
<text x="287.20" y="53.30" font-size="6.50" text-anchor="start" fill="#000" font-family='"Liberation Sans", sans-serif'>r = 0.97</text>
<text x="287.20" y="61.50" font-size="6.50" text-anchor="start" fill="#000" font-family='"Liberation Sans", sans-serif'>P = 8.5e-24</text>
<defs><clipPath id="cpc"><rect x="509.1" y="29.6" width="171.39999999999998" height="154.5"/></clipPath></defs>
<g clip-path="url(#cpc)">
<line x1="529.62" y1="29.6" x2="529.62" y2="184.1" stroke="#f2f2f2" stroke-width="0.5"/>
<line x1="577.97" y1="29.6" x2="577.97" y2="184.1" stroke="#f2f2f2" stroke-width="0.5"/>
<line x1="626.32" y1="29.6" x2="626.32" y2="184.1" stroke="#f2f2f2" stroke-width="0.5"/>
<line x1="674.67" y1="29.6" x2="674.67" y2="184.1" stroke="#f2f2f2" stroke-width="0.5"/>
<line x1="509.1" y1="179.77" x2="680.5" y2="179.77" stroke="#f2f2f2" stroke-width="0.5"/>
<line x1="509.1" y1="139.03" x2="680.5" y2="139.03" stroke="#f2f2f2" stroke-width="0.5"/>
<line x1="509.1" y1="98.30" x2="680.5" y2="98.30" stroke="#f2f2f2" stroke-width="0.5"/>
<line x1="509.1" y1="57.57" x2="680.5" y2="57.57" stroke="#f2f2f2" stroke-width="0.5"/>
<line x1="553.80" y1="29.6" x2="553.80" y2="184.1" stroke="#ebebeb" stroke-width="0.8"/>
<line x1="602.15" y1="29.6" x2="602.15" y2="184.1" stroke="#ebebeb" stroke-width="0.8"/>
<line x1="650.50" y1="29.6" x2="650.50" y2="184.1" stroke="#ebebeb" stroke-width="0.8"/>
<line x1="509.1" y1="159.40" x2="680.5" y2="159.40" stroke="#ebebeb" stroke-width="0.8"/>
<line x1="509.1" y1="118.67" x2="680.5" y2="118.67" stroke="#ebebeb" stroke-width="0.8"/>
<line x1="509.1" y1="77.93" x2="680.5" y2="77.93" stroke="#ebebeb" stroke-width="0.8"/>
<line x1="509.1" y1="37.20" x2="680.5" y2="37.20" stroke="#ebebeb" stroke-width="0.8"/>
<circle cx="673.10" cy="35.80" r="2.15" fill="#0000ff"/>
<circle cx="624.40" cy="72.10" r="2.15" fill="#0000ff"/>
<circle cx="631.60" cy="71.60" r="2.15" fill="#0000ff"/>
<circle cx="638.00" cy="73.50" r="2.15" fill="#0000ff"/>
<circle cx="604.60" cy="87.80" r="2.15" fill="#0000ff"/>
<circle cx="597.00" cy="94.30" r="2.15" fill="#0000ff"/>
<circle cx="605.30" cy="93.30" r="2.15" fill="#0000ff"/>
<circle cx="605.80" cy="96.20" r="2.15" fill="#0000ff"/>
<circle cx="616.80" cy="96.70" r="2.15" fill="#0000ff"/>
<circle cx="625.60" cy="96.20" r="2.15" fill="#0000ff"/>
<circle cx="596.70" cy="94.40" r="2.15" fill="#0000ff"/>
<circle cx="595.40" cy="107.00" r="2.15" fill="#0000ff"/>
<circle cx="572.20" cy="109.80" r="2.15" fill="#0000ff"/>
<circle cx="578.90" cy="112.00" r="2.15" fill="#0000ff"/>
<circle cx="580.40" cy="116.90" r="2.15" fill="#0000ff"/>
<circle cx="547.10" cy="118.40" r="2.15" fill="#0000ff"/>
<circle cx="558.70" cy="120.80" r="2.15" fill="#0000ff"/>
<circle cx="590.90" cy="122.70" r="2.15" fill="#0000ff"/>
<circle cx="593.50" cy="123.60" r="2.15" fill="#0000ff"/>
<circle cx="599.00" cy="118.00" r="2.15" fill="#0000ff"/>
<circle cx="573.30" cy="125.50" r="2.15" fill="#0000ff"/>
<circle cx="577.60" cy="124.90" r="2.15" fill="#0000ff"/>
<circle cx="579.30" cy="124.90" r="2.15" fill="#0000ff"/>
<circle cx="543.50" cy="130.90" r="2.15" fill="#0000ff"/>
<circle cx="572.00" cy="131.30" r="2.15" fill="#0000ff"/>
<circle cx="581.50" cy="130.20" r="2.15" fill="#0000ff"/>
<circle cx="525.80" cy="139.90" r="2.15" fill="#0000ff"/>
<circle cx="577.60" cy="139.30" r="2.15" fill="#0000ff"/>
<circle cx="565.40" cy="142.90" r="2.15" fill="#0000ff"/>
<circle cx="569.40" cy="147.90" r="2.15" fill="#0000ff"/>
<circle cx="530.80" cy="148.90" r="2.15" fill="#0000ff"/>
<circle cx="516.50" cy="156.30" r="2.15" fill="#0000ff"/>
<circle cx="534.80" cy="157.50" r="2.15" fill="#0000ff"/>
<circle cx="546.90" cy="168.30" r="2.15" fill="#0000ff"/>
<circle cx="552.60" cy="159.40" r="2.15" fill="#0000ff"/>
<circle cx="558.70" cy="121.10" r="2.15" fill="#0000ff"/>
<circle cx="573.10" cy="125.70" r="2.15" fill="#0000ff"/>
<circle cx="582.20" cy="152.10" r="2.15" fill="#0000ff"/>
<circle cx="608.80" cy="107.50" r="2.15" fill="#0000ff"/>
<circle cx="609.70" cy="109.20" r="2.15" fill="#0000ff"/>
<circle cx="617.20" cy="103.70" r="2.15" fill="#0000ff"/>
<circle cx="611.30" cy="122.50" r="2.15" fill="#0000ff"/>
<path d="M516.70,157.22 L520.61,154.87 L524.52,152.51 L528.43,150.14 L532.34,147.77 L536.25,145.38 L540.16,142.97 L544.07,140.55 L547.98,138.11 L551.89,135.64 L555.80,133.15 L559.71,130.62 L563.62,128.05 L567.53,125.44 L571.44,122.78 L575.35,120.07 L579.26,117.30 L583.17,114.47 L587.08,111.59 L590.99,108.66 L594.90,105.67 L598.81,102.65 L602.72,99.59 L606.63,96.50 L610.54,93.38 L614.45,90.24 L618.36,87.08 L622.27,83.90 L626.18,80.71 L630.09,77.51 L634.00,74.30 L637.91,71.07 L641.82,67.85 L645.73,64.61 L649.64,61.37 L653.55,58.13 L657.46,54.88 L661.37,51.63 L665.28,48.37 L669.19,45.11 L673.10,41.85 L673.10,67.95 L669.19,70.26 L665.28,72.58 L661.37,74.90 L657.46,77.22 L653.55,79.55 L649.64,81.88 L645.73,84.21 L641.82,86.55 L637.91,88.90 L634.00,91.25 L630.09,93.62 L626.18,95.99 L622.27,98.37 L618.36,100.77 L614.45,103.19 L610.54,105.62 L606.63,108.08 L602.72,110.56 L598.81,113.07 L594.90,115.63 L590.99,118.22 L587.08,120.86 L583.17,123.55 L579.26,126.30 L575.35,129.11 L571.44,131.97 L567.53,134.88 L563.62,137.85 L559.71,140.85 L555.80,143.90 L551.89,146.98 L547.98,150.09 L544.07,153.22 L540.16,156.38 L536.25,159.55 L532.34,162.73 L528.43,165.93 L524.52,169.14 L520.61,172.36 L516.70,175.58Z" fill="rgb(115,103,155)" fill-opacity="0.4"/>
<line x1="516.70" y1="166.40" x2="673.10" y2="54.90" stroke="#f00" stroke-width="1.1"/>
</g>
<rect x="509.1" y="29.6" width="171.39999999999998" height="154.5" fill="none" stroke="#4a4a4a" stroke-width="1"/>
<line x1="553.80" y1="184.1" x2="553.80" y2="185.6" stroke="#444" stroke-width="0.6"/>
<text x="553.80" y="189.14" font-size="4.00" text-anchor="middle" fill="#555" font-family='"Liberation Sans", sans-serif'>5.0</text>
<line x1="602.15" y1="184.1" x2="602.15" y2="185.6" stroke="#444" stroke-width="0.6"/>
<text x="602.15" y="189.14" font-size="4.00" text-anchor="middle" fill="#555" font-family='"Liberation Sans", sans-serif'>5.2</text>
<line x1="650.50" y1="184.1" x2="650.50" y2="185.6" stroke="#444" stroke-width="0.6"/>
<text x="650.50" y="189.14" font-size="4.00" text-anchor="middle" fill="#555" font-family='"Liberation Sans", sans-serif'>5.4</text>
<line x1="507.6" y1="159.40" x2="509.1" y2="159.40" stroke="#444" stroke-width="0.6"/>
<text x="506.60" y="160.84" font-size="4.00" text-anchor="end" fill="#555" font-family='"Liberation Sans", sans-serif'>8.5</text>
<line x1="507.6" y1="118.67" x2="509.1" y2="118.67" stroke="#444" stroke-width="0.6"/>
<text x="506.60" y="120.11" font-size="4.00" text-anchor="end" fill="#555" font-family='"Liberation Sans", sans-serif'>9.0</text>
<line x1="507.6" y1="77.93" x2="509.1" y2="77.93" stroke="#444" stroke-width="0.6"/>
<text x="506.60" y="79.37" font-size="4.00" text-anchor="end" fill="#555" font-family='"Liberation Sans", sans-serif'>9.5</text>
<line x1="507.6" y1="37.20" x2="509.1" y2="37.20" stroke="#444" stroke-width="0.6"/>
<text x="506.60" y="38.64" font-size="4.00" text-anchor="end" fill="#555" font-family='"Liberation Sans", sans-serif'>10.0</text>
<text x="594.60" y="25.80" font-size="6.85" text-anchor="middle" font-weight="bold" fill="#000" font-family='"Liberation Sans", sans-serif'>SDHD &amp; ATP5F1A</text>
<text x="595.10" y="195.90" font-size="6.90" text-anchor="middle" fill="#000" font-family='"Liberation Sans", sans-serif'>SDHD Expression (log2)</text>
<text x="496.50" y="106.90" font-size="6.27" text-anchor="middle" fill="#000" transform="rotate(-90 496.50 106.90)" font-family='"Liberation Sans", sans-serif'>ATP5F1A Expression (log2)</text>
<text x="516.60" y="34.50" font-size="6.50" text-anchor="start" fill="#000" font-family='"Liberation Sans", sans-serif'>r = 0.86</text>
<text x="516.60" y="43.10" font-size="6.50" text-anchor="start" fill="#000" font-family='"Liberation Sans", sans-serif'>P = 2.2e-12</text>
<defs><clipPath id="cpe"><rect x="281.3" y="251.3" width="169.2" height="150.7"/></clipPath></defs>
<g clip-path="url(#cpe)">
<line x1="268.90" y1="251.3" x2="268.90" y2="402.0" stroke="#f2f2f2" stroke-width="0.5"/>
<line x1="319.90" y1="251.3" x2="319.90" y2="402.0" stroke="#f2f2f2" stroke-width="0.5"/>
<line x1="370.90" y1="251.3" x2="370.90" y2="402.0" stroke="#f2f2f2" stroke-width="0.5"/>
<line x1="421.90" y1="251.3" x2="421.90" y2="402.0" stroke="#f2f2f2" stroke-width="0.5"/>
<line x1="281.3" y1="397.38" x2="450.5" y2="397.38" stroke="#f2f2f2" stroke-width="0.5"/>
<line x1="281.3" y1="362.02" x2="450.5" y2="362.02" stroke="#f2f2f2" stroke-width="0.5"/>
<line x1="281.3" y1="326.65" x2="450.5" y2="326.65" stroke="#f2f2f2" stroke-width="0.5"/>
<line x1="281.3" y1="291.28" x2="450.5" y2="291.28" stroke="#f2f2f2" stroke-width="0.5"/>
<line x1="281.3" y1="255.92" x2="450.5" y2="255.92" stroke="#f2f2f2" stroke-width="0.5"/>
<line x1="294.40" y1="251.3" x2="294.40" y2="402.0" stroke="#ebebeb" stroke-width="0.8"/>
<line x1="345.40" y1="251.3" x2="345.40" y2="402.0" stroke="#ebebeb" stroke-width="0.8"/>
<line x1="396.40" y1="251.3" x2="396.40" y2="402.0" stroke="#ebebeb" stroke-width="0.8"/>
<line x1="447.40" y1="251.3" x2="447.40" y2="402.0" stroke="#ebebeb" stroke-width="0.8"/>
<line x1="281.3" y1="379.70" x2="450.5" y2="379.70" stroke="#ebebeb" stroke-width="0.8"/>
<line x1="281.3" y1="344.33" x2="450.5" y2="344.33" stroke="#ebebeb" stroke-width="0.8"/>
<line x1="281.3" y1="308.97" x2="450.5" y2="308.97" stroke="#ebebeb" stroke-width="0.8"/>
<line x1="281.3" y1="273.60" x2="450.5" y2="273.60" stroke="#ebebeb" stroke-width="0.8"/>
<circle cx="443.00" cy="258.10" r="2.15" fill="#0000ff"/>
<circle cx="420.80" cy="262.00" r="2.15" fill="#0000ff"/>
<circle cx="435.20" cy="273.60" r="2.15" fill="#0000ff"/>
<circle cx="407.80" cy="280.10" r="2.15" fill="#0000ff"/>
<circle cx="404.40" cy="299.70" r="2.15" fill="#0000ff"/>
<circle cx="391.70" cy="301.00" r="2.15" fill="#0000ff"/>
<circle cx="393.20" cy="306.20" r="2.15" fill="#0000ff"/>
<circle cx="374.80" cy="312.50" r="2.15" fill="#0000ff"/>
<circle cx="383.60" cy="311.80" r="2.15" fill="#0000ff"/>
<circle cx="384.60" cy="314.10" r="2.15" fill="#0000ff"/>
<circle cx="389.20" cy="315.90" r="2.15" fill="#0000ff"/>
<circle cx="393.50" cy="312.60" r="2.15" fill="#0000ff"/>
<circle cx="376.80" cy="316.60" r="2.15" fill="#0000ff"/>
<circle cx="371.00" cy="320.70" r="2.15" fill="#0000ff"/>
<circle cx="380.10" cy="321.40" r="2.15" fill="#0000ff"/>
<circle cx="361.10" cy="326.40" r="2.15" fill="#0000ff"/>
<circle cx="367.00" cy="329.10" r="2.15" fill="#0000ff"/>
<circle cx="368.00" cy="329.30" r="2.15" fill="#0000ff"/>
<circle cx="363.00" cy="330.80" r="2.15" fill="#0000ff"/>
<circle cx="359.40" cy="332.30" r="2.15" fill="#0000ff"/>
<circle cx="358.10" cy="334.40" r="2.15" fill="#0000ff"/>
<circle cx="344.00" cy="336.30" r="2.15" fill="#0000ff"/>
<circle cx="351.50" cy="339.40" r="2.15" fill="#0000ff"/>
<circle cx="350.10" cy="340.10" r="2.15" fill="#0000ff"/>
<circle cx="349.30" cy="344.70" r="2.15" fill="#0000ff"/>
<circle cx="368.00" cy="338.70" r="2.15" fill="#0000ff"/>
<circle cx="288.70" cy="381.80" r="2.15" fill="#0000ff"/>
<circle cx="316.30" cy="353.70" r="2.15" fill="#0000ff"/>
<path d="M288.70,379.82 L292.54,377.07 L296.38,374.33 L300.22,371.58 L304.06,368.83 L307.90,366.09 L311.74,363.34 L315.58,360.59 L319.42,357.84 L323.26,355.08 L327.10,352.33 L330.94,349.57 L334.78,346.81 L338.62,344.05 L342.46,341.29 L346.30,338.51 L350.14,335.73 L353.98,332.94 L357.82,330.14 L361.66,327.31 L365.50,324.45 L369.34,321.55 L373.18,318.58 L377.02,315.53 L380.86,312.40 L384.70,309.20 L388.54,305.94 L392.38,302.64 L396.22,299.31 L400.06,295.97 L403.90,292.61 L407.74,289.24 L411.58,285.87 L415.42,282.49 L419.26,279.10 L423.10,275.72 L426.94,272.33 L430.78,268.93 L434.62,265.54 L438.46,262.15 L442.30,258.75 L442.30,270.45 L438.46,273.20 L434.62,275.95 L430.78,278.70 L426.94,281.45 L423.10,284.21 L419.26,286.97 L415.42,289.73 L411.58,292.49 L407.74,295.26 L403.90,298.04 L400.06,300.83 L396.22,303.63 L392.38,306.45 L388.54,309.29 L384.70,312.18 L380.86,315.12 L377.02,318.13 L373.18,321.23 L369.34,324.41 L365.50,327.65 L361.66,330.94 L357.82,334.25 L353.98,337.59 L350.14,340.95 L346.30,344.31 L342.46,347.68 L338.62,351.06 L334.78,354.45 L330.94,357.83 L327.10,361.22 L323.26,364.61 L319.42,368.00 L315.58,371.40 L311.74,374.79 L307.90,378.19 L304.06,381.59 L300.22,384.98 L296.38,388.38 L292.54,391.78 L288.70,395.18Z" fill="rgb(115,103,155)" fill-opacity="0.4"/>
<line x1="288.70" y1="387.50" x2="442.30" y2="264.60" stroke="#f00" stroke-width="1.1"/>
</g>
<rect x="281.3" y="251.3" width="169.2" height="150.7" fill="none" stroke="#4a4a4a" stroke-width="1"/>
<line x1="294.40" y1="402.0" x2="294.40" y2="403.5" stroke="#444" stroke-width="0.6"/>
<text x="294.40" y="407.44" font-size="4.00" text-anchor="middle" fill="#555" font-family='"Liberation Sans", sans-serif'>7.5</text>
<line x1="345.40" y1="402.0" x2="345.40" y2="403.5" stroke="#444" stroke-width="0.6"/>
<text x="345.40" y="407.44" font-size="4.00" text-anchor="middle" fill="#555" font-family='"Liberation Sans", sans-serif'>8.0</text>
<line x1="396.40" y1="402.0" x2="396.40" y2="403.5" stroke="#444" stroke-width="0.6"/>
<text x="396.40" y="407.44" font-size="4.00" text-anchor="middle" fill="#555" font-family='"Liberation Sans", sans-serif'>8.5</text>
<line x1="447.40" y1="402.0" x2="447.40" y2="403.5" stroke="#444" stroke-width="0.6"/>
<text x="447.40" y="407.44" font-size="4.00" text-anchor="middle" fill="#555" font-family='"Liberation Sans", sans-serif'>9.0</text>
<line x1="279.8" y1="379.70" x2="281.3" y2="379.70" stroke="#444" stroke-width="0.6"/>
<text x="279.00" y="381.14" font-size="4.00" text-anchor="end" fill="#555" font-family='"Liberation Sans", sans-serif'>7.5</text>
<line x1="279.8" y1="344.33" x2="281.3" y2="344.33" stroke="#444" stroke-width="0.6"/>
<text x="279.00" y="345.77" font-size="4.00" text-anchor="end" fill="#555" font-family='"Liberation Sans", sans-serif'>8.0</text>
<line x1="279.8" y1="308.97" x2="281.3" y2="308.97" stroke="#444" stroke-width="0.6"/>
<text x="279.00" y="310.41" font-size="4.00" text-anchor="end" fill="#555" font-family='"Liberation Sans", sans-serif'>8.5</text>
<line x1="279.8" y1="273.60" x2="281.3" y2="273.60" stroke="#444" stroke-width="0.6"/>
<text x="279.00" y="275.04" font-size="4.00" text-anchor="end" fill="#555" font-family='"Liberation Sans", sans-serif'>9.0</text>
<text x="365.90" y="248.10" font-size="6.55" text-anchor="middle" font-weight="bold" fill="#000" font-family='"Liberation Sans", sans-serif'>ATP5F1A &amp; ATP5F1B</text>
<text x="366.00" y="413.20" font-size="6.50" text-anchor="middle" fill="#000" font-family='"Liberation Sans", sans-serif'>ATP5F1A Expression (log2)</text>
<text x="271.40" y="326.80" font-size="6.09" text-anchor="middle" fill="#000" transform="rotate(-90 271.40 326.80)" font-family='"Liberation Sans", sans-serif'>ATP5F1B Expression (log2)</text>
<text x="288.70" y="256.60" font-size="6.50" text-anchor="start" fill="#000" font-family='"Liberation Sans", sans-serif'>r = 0.96</text>
<text x="288.70" y="265.10" font-size="6.50" text-anchor="start" fill="#000" font-family='"Liberation Sans", sans-serif'>P = 4.7e-18</text>
<defs><clipPath id="cpf"><rect x="504.5" y="248.0" width="179.5" height="157.10000000000002"/></clipPath></defs>
<g clip-path="url(#cpf)">
<line x1="537.30" y1="248.0" x2="537.30" y2="405.1" stroke="#f2f2f2" stroke-width="0.5"/>
<line x1="586.50" y1="248.0" x2="586.50" y2="405.1" stroke="#f2f2f2" stroke-width="0.5"/>
<line x1="635.70" y1="248.0" x2="635.70" y2="405.1" stroke="#f2f2f2" stroke-width="0.5"/>
<line x1="684.90" y1="248.0" x2="684.90" y2="405.1" stroke="#f2f2f2" stroke-width="0.5"/>
<line x1="504.5" y1="397.35" x2="684.0" y2="397.35" stroke="#f2f2f2" stroke-width="0.5"/>
<line x1="504.5" y1="363.45" x2="684.0" y2="363.45" stroke="#f2f2f2" stroke-width="0.5"/>
<line x1="504.5" y1="329.55" x2="684.0" y2="329.55" stroke="#f2f2f2" stroke-width="0.5"/>
<line x1="504.5" y1="295.65" x2="684.0" y2="295.65" stroke="#f2f2f2" stroke-width="0.5"/>
<line x1="504.5" y1="261.75" x2="684.0" y2="261.75" stroke="#f2f2f2" stroke-width="0.5"/>
<line x1="512.70" y1="248.0" x2="512.70" y2="405.1" stroke="#ebebeb" stroke-width="0.8"/>
<line x1="561.90" y1="248.0" x2="561.90" y2="405.1" stroke="#ebebeb" stroke-width="0.8"/>
<line x1="611.10" y1="248.0" x2="611.10" y2="405.1" stroke="#ebebeb" stroke-width="0.8"/>
<line x1="660.30" y1="248.0" x2="660.30" y2="405.1" stroke="#ebebeb" stroke-width="0.8"/>
<line x1="504.5" y1="380.40" x2="684.0" y2="380.40" stroke="#ebebeb" stroke-width="0.8"/>
<line x1="504.5" y1="346.50" x2="684.0" y2="346.50" stroke="#ebebeb" stroke-width="0.8"/>
<line x1="504.5" y1="312.60" x2="684.0" y2="312.60" stroke="#ebebeb" stroke-width="0.8"/>
<line x1="504.5" y1="278.70" x2="684.0" y2="278.70" stroke="#ebebeb" stroke-width="0.8"/>
<circle cx="676.30" cy="263.80" r="2.15" fill="#0000ff"/>
<circle cx="649.60" cy="267.40" r="2.15" fill="#0000ff"/>
<circle cx="626.20" cy="278.70" r="2.15" fill="#0000ff"/>
<circle cx="623.70" cy="284.90" r="2.15" fill="#0000ff"/>
<circle cx="612.80" cy="304.70" r="2.15" fill="#0000ff"/>
<circle cx="609.40" cy="309.70" r="2.15" fill="#0000ff"/>
<circle cx="629.30" cy="303.40" r="2.15" fill="#0000ff"/>
<circle cx="581.30" cy="315.60" r="2.15" fill="#0000ff"/>
<circle cx="594.50" cy="319.60" r="2.15" fill="#0000ff"/>
<circle cx="602.60" cy="318.80" r="2.15" fill="#0000ff"/>
<circle cx="605.10" cy="316.80" r="2.15" fill="#0000ff"/>
<circle cx="618.50" cy="315.10" r="2.15" fill="#0000ff"/>
<circle cx="621.10" cy="317.10" r="2.15" fill="#0000ff"/>
<circle cx="632.50" cy="315.90" r="2.15" fill="#0000ff"/>
<circle cx="608.90" cy="324.30" r="2.15" fill="#0000ff"/>
<circle cx="612.10" cy="323.80" r="2.15" fill="#0000ff"/>
<circle cx="582.00" cy="332.60" r="2.15" fill="#0000ff"/>
<circle cx="585.00" cy="334.80" r="2.15" fill="#0000ff"/>
<circle cx="593.00" cy="332.80" r="2.15" fill="#0000ff"/>
<circle cx="594.70" cy="331.50" r="2.15" fill="#0000ff"/>
<circle cx="598.70" cy="328.80" r="2.15" fill="#0000ff"/>
<circle cx="599.70" cy="331.10" r="2.15" fill="#0000ff"/>
<circle cx="595.90" cy="336.80" r="2.15" fill="#0000ff"/>
<circle cx="580.50" cy="341.80" r="2.15" fill="#0000ff"/>
<circle cx="511.90" cy="382.10" r="2.15" fill="#0000ff"/>
<circle cx="547.40" cy="354.80" r="2.15" fill="#0000ff"/>
<circle cx="566.70" cy="346.30" r="2.15" fill="#0000ff"/>
<circle cx="570.10" cy="338.90" r="2.15" fill="#0000ff"/>
<circle cx="578.90" cy="341.20" r="2.15" fill="#0000ff"/>
<circle cx="580.10" cy="342.30" r="2.15" fill="#0000ff"/>
<path d="M511.90,375.47 L516.00,372.89 L520.10,370.31 L524.20,367.73 L528.30,365.14 L532.40,362.55 L536.50,359.96 L540.60,357.37 L544.70,354.77 L548.80,352.17 L552.90,349.56 L557.00,346.94 L561.10,344.31 L565.20,341.67 L569.30,339.02 L573.40,336.35 L577.50,333.66 L581.60,330.93 L585.70,328.17 L589.80,325.36 L593.90,322.50 L598.00,319.56 L602.10,316.55 L606.20,313.47 L610.30,310.30 L614.40,307.07 L618.50,303.78 L622.60,300.44 L626.70,297.07 L630.80,293.67 L634.90,290.24 L639.00,286.80 L643.10,283.34 L647.20,279.87 L651.30,276.40 L655.40,272.91 L659.50,269.42 L663.60,265.92 L667.70,262.42 L671.80,258.92 L675.90,255.41 L675.90,273.99 L671.80,276.58 L667.70,279.17 L663.60,281.76 L659.50,284.36 L655.40,286.96 L651.30,289.57 L647.20,292.19 L643.10,294.82 L639.00,297.46 L634.90,300.11 L630.80,302.78 L626.70,305.47 L622.60,308.19 L618.50,310.95 L614.40,313.76 L610.30,316.62 L606.20,319.55 L602.10,322.56 L598.00,325.64 L593.90,328.80 L589.80,332.03 L585.70,335.32 L581.60,338.65 L577.50,342.02 L573.40,345.42 L569.30,348.85 L565.20,352.29 L561.10,355.75 L557.00,359.22 L552.90,362.69 L548.80,366.18 L544.70,369.67 L540.60,373.17 L536.50,376.67 L532.40,380.17 L528.30,383.68 L524.20,387.19 L520.10,390.70 L516.00,394.22 L511.90,397.73Z" fill="rgb(115,103,155)" fill-opacity="0.4"/>
<line x1="511.90" y1="386.60" x2="675.90" y2="264.70" stroke="#f00" stroke-width="1.1"/>
</g>
<rect x="504.5" y="248.0" width="179.5" height="157.10000000000002" fill="none" stroke="#4a4a4a" stroke-width="1"/>
<line x1="512.70" y1="405.1" x2="512.70" y2="406.6" stroke="#444" stroke-width="0.6"/>
<text x="512.70" y="411.04" font-size="4.00" text-anchor="middle" fill="#555" font-family='"Liberation Sans", sans-serif'>4.5</text>
<line x1="561.90" y1="405.1" x2="561.90" y2="406.6" stroke="#444" stroke-width="0.6"/>
<text x="561.90" y="411.04" font-size="4.00" text-anchor="middle" fill="#555" font-family='"Liberation Sans", sans-serif'>5.0</text>
<line x1="611.10" y1="405.1" x2="611.10" y2="406.6" stroke="#444" stroke-width="0.6"/>
<text x="611.10" y="411.04" font-size="4.00" text-anchor="middle" fill="#555" font-family='"Liberation Sans", sans-serif'>5.5</text>
<line x1="660.30" y1="405.1" x2="660.30" y2="406.6" stroke="#444" stroke-width="0.6"/>
<text x="660.30" y="411.04" font-size="4.00" text-anchor="middle" fill="#555" font-family='"Liberation Sans", sans-serif'>6.0</text>
<line x1="503.0" y1="380.40" x2="504.5" y2="380.40" stroke="#444" stroke-width="0.6"/>
<text x="502.00" y="381.84" font-size="4.00" text-anchor="end" fill="#555" font-family='"Liberation Sans", sans-serif'>7.5</text>
<line x1="503.0" y1="346.50" x2="504.5" y2="346.50" stroke="#444" stroke-width="0.6"/>
<text x="502.00" y="347.94" font-size="4.00" text-anchor="end" fill="#555" font-family='"Liberation Sans", sans-serif'>8.0</text>
<line x1="503.0" y1="312.60" x2="504.5" y2="312.60" stroke="#444" stroke-width="0.6"/>
<text x="502.00" y="314.04" font-size="4.00" text-anchor="end" fill="#555" font-family='"Liberation Sans", sans-serif'>8.5</text>
<line x1="503.0" y1="278.70" x2="504.5" y2="278.70" stroke="#444" stroke-width="0.6"/>
<text x="502.00" y="280.14" font-size="4.00" text-anchor="end" fill="#555" font-family='"Liberation Sans", sans-serif'>9.0</text>
<text x="594.30" y="244.20" font-size="6.85" text-anchor="middle" font-weight="bold" fill="#000" font-family='"Liberation Sans", sans-serif'>SDHB &amp; ATP5F1B</text>
<text x="594.30" y="416.80" font-size="7.00" text-anchor="middle" fill="#000" font-family='"Liberation Sans", sans-serif'>SDHB Expression (log2)</text>
<text x="493.50" y="326.70" font-size="6.33" text-anchor="middle" fill="#000" transform="rotate(-90 493.50 326.70)" font-family='"Liberation Sans", sans-serif'>ATP5F1B Expression (log2)</text>
<text x="511.80" y="262.20" font-size="6.50" text-anchor="start" fill="#000" font-family='"Liberation Sans", sans-serif'>r = 0.91</text>
<text x="511.80" y="270.40" font-size="6.50" text-anchor="start" fill="#000" font-family='"Liberation Sans", sans-serif'>P = 6.8e-13</text>
</svg></body></html>
